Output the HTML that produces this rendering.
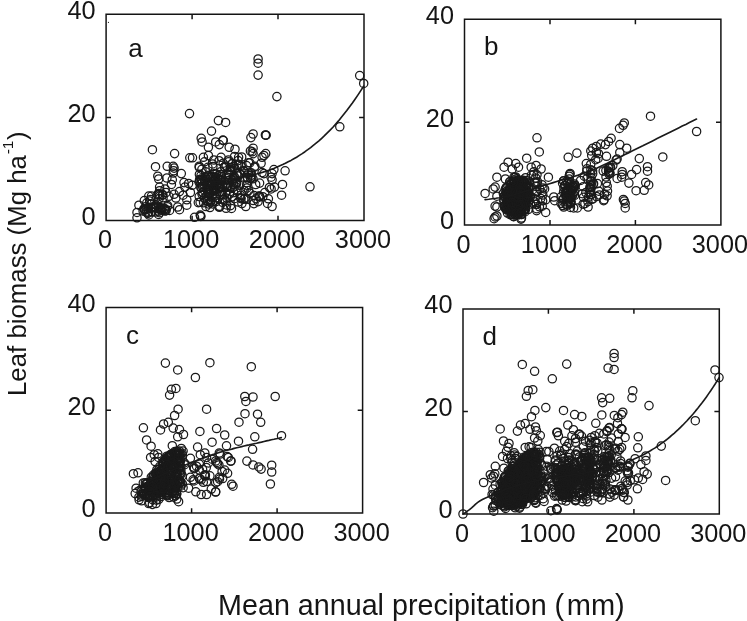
<!DOCTYPE html>
<html lang="en"><head><meta charset="utf-8"><title>Leaf biomass vs mean annual precipitation</title>
<style>
html,body{margin:0;padding:0;background:#fff;}
svg{display:block;}
text{font-family:"Liberation Sans",Arial,Helvetica,sans-serif;fill:#151515;}
.tk{font-size:25.3px;}
.pt circle{fill:none;stroke:#1a1a1a;stroke-width:1.25;}
.ax{fill:none;stroke:#141414;stroke-width:1.5;}
.cv{fill:none;stroke:#1a1a1a;stroke-width:1.65;stroke-linecap:round;stroke-linejoin:round;}
</style></head><body>
<svg width="747" height="621" viewBox="0 0 747 621">
<rect width="747" height="621" fill="#fff"/>

<g id="panel-a">
<g class="pt">
<circle cx="258.1" cy="59.0" r="4.15"/>
<circle cx="258.1" cy="63.2" r="4.15"/>
<circle cx="258.1" cy="75.1" r="4.15"/>
<circle cx="276.9" cy="96.6" r="4.15"/>
<circle cx="359.7" cy="75.6" r="4.15"/>
<circle cx="363.7" cy="83.4" r="4.15"/>
<circle cx="339.8" cy="126.8" r="4.15"/>
<circle cx="253.1" cy="134.0" r="4.15"/>
<circle cx="250.9" cy="137.6" r="4.15"/>
<circle cx="265.4" cy="134.9" r="4.15"/>
<circle cx="266.1" cy="135.2" r="4.15"/>
<circle cx="265.7" cy="135.2" r="4.15"/>
<circle cx="310.0" cy="186.8" r="4.15"/>
<circle cx="285.1" cy="170.8" r="4.15"/>
<circle cx="282.5" cy="184.4" r="4.15"/>
<circle cx="281.6" cy="195.2" r="4.15"/>
<circle cx="273.9" cy="169.6" r="4.15"/>
<circle cx="272.1" cy="173.6" r="4.15"/>
<circle cx="271.1" cy="177.2" r="4.15"/>
<circle cx="272.1" cy="179.8" r="4.15"/>
<circle cx="274.4" cy="187.1" r="4.15"/>
<circle cx="271.1" cy="188.9" r="4.15"/>
<circle cx="268.4" cy="198.8" r="4.15"/>
<circle cx="267.5" cy="203.4" r="4.15"/>
<circle cx="272.1" cy="206.5" r="4.15"/>
<circle cx="259.4" cy="196.5" r="4.15"/>
<circle cx="259.8" cy="196.9" r="4.15"/>
<circle cx="259.0" cy="196.1" r="4.15"/>
<circle cx="259.6" cy="196.3" r="4.15"/>
<circle cx="245.8" cy="206.5" r="4.15"/>
<circle cx="253.1" cy="148.2" r="4.15"/>
<circle cx="250.4" cy="151.0" r="4.15"/>
<circle cx="252.2" cy="151.8" r="4.15"/>
<circle cx="253.1" cy="153.6" r="4.15"/>
<circle cx="265.7" cy="153.6" r="4.15"/>
<circle cx="263.9" cy="155.5" r="4.15"/>
<circle cx="262.1" cy="157.3" r="4.15"/>
<circle cx="235.0" cy="149.2" r="4.15"/>
<circle cx="248.6" cy="162.7" r="4.15"/>
<circle cx="254.9" cy="166.3" r="4.15"/>
<circle cx="238.6" cy="157.3" r="4.15"/>
<circle cx="263.9" cy="173.6" r="4.15"/>
<circle cx="262.1" cy="172.6" r="4.15"/>
<circle cx="189.5" cy="113.6" r="4.15"/>
<circle cx="218.4" cy="120.6" r="4.15"/>
<circle cx="225.6" cy="122.4" r="4.15"/>
<circle cx="211.5" cy="131.1" r="4.15"/>
<circle cx="201.2" cy="138.3" r="4.15"/>
<circle cx="202.1" cy="141.9" r="4.15"/>
<circle cx="215.7" cy="141.9" r="4.15"/>
<circle cx="219.3" cy="144.6" r="4.15"/>
<circle cx="222.9" cy="140.1" r="4.15"/>
<circle cx="223.3" cy="140.5" r="4.15"/>
<circle cx="208.4" cy="147.3" r="4.15"/>
<circle cx="229.2" cy="147.3" r="4.15"/>
<circle cx="152.4" cy="149.7" r="4.15"/>
<circle cx="174.6" cy="153.6" r="4.15"/>
<circle cx="189.8" cy="157.8" r="4.15"/>
<circle cx="192.5" cy="157.8" r="4.15"/>
<circle cx="203.4" cy="157.3" r="4.15"/>
<circle cx="208.4" cy="155.5" r="4.15"/>
<circle cx="204.5" cy="161.8" r="4.15"/>
<circle cx="221.1" cy="157.3" r="4.15"/>
<circle cx="213.9" cy="160.0" r="4.15"/>
<circle cx="234.6" cy="156.4" r="4.15"/>
<circle cx="155.5" cy="166.7" r="4.15"/>
<circle cx="167.2" cy="166.3" r="4.15"/>
<circle cx="173.2" cy="166.3" r="4.15"/>
<circle cx="174.1" cy="168.1" r="4.15"/>
<circle cx="173.7" cy="170.8" r="4.15"/>
<circle cx="173.2" cy="173.0" r="4.15"/>
<circle cx="181.3" cy="173.6" r="4.15"/>
<circle cx="199.4" cy="174.4" r="4.15"/>
<circle cx="157.8" cy="176.2" r="4.15"/>
<circle cx="158.7" cy="179.0" r="4.15"/>
<circle cx="166.9" cy="178.0" r="4.15"/>
<circle cx="172.3" cy="179.8" r="4.15"/>
<circle cx="171.4" cy="184.4" r="4.15"/>
<circle cx="184.0" cy="182.6" r="4.15"/>
<circle cx="188.6" cy="183.5" r="4.15"/>
<circle cx="184.9" cy="187.1" r="4.15"/>
<circle cx="179.5" cy="191.6" r="4.15"/>
<circle cx="183.1" cy="195.2" r="4.15"/>
<circle cx="186.8" cy="199.8" r="4.15"/>
<circle cx="177.7" cy="207.0" r="4.15"/>
<circle cx="179.5" cy="209.7" r="4.15"/>
<circle cx="186.8" cy="205.2" r="4.15"/>
<circle cx="190.4" cy="192.5" r="4.15"/>
<circle cx="192.2" cy="185.3" r="4.15"/>
<circle cx="175.9" cy="198.0" r="4.15"/>
<circle cx="174.1" cy="194.3" r="4.15"/>
<circle cx="159.6" cy="187.1" r="4.15"/>
<circle cx="159.6" cy="190.7" r="4.15"/>
<circle cx="158.7" cy="193.4" r="4.15"/>
<circle cx="159.6" cy="196.1" r="4.15"/>
<circle cx="165.1" cy="188.9" r="4.15"/>
<circle cx="166.0" cy="192.5" r="4.15"/>
<circle cx="144.3" cy="200.6" r="4.15"/>
<circle cx="148.8" cy="196.1" r="4.15"/>
<circle cx="151.5" cy="196.1" r="4.15"/>
<circle cx="138.9" cy="205.2" r="4.15"/>
<circle cx="137.0" cy="212.4" r="4.15"/>
<circle cx="137.0" cy="217.8" r="4.15"/>
<circle cx="194.5" cy="217.3" r="4.15"/>
<circle cx="200.9" cy="216.4" r="4.15"/>
<circle cx="200.3" cy="215.1" r="4.15"/>
<circle cx="200.5" cy="216.0" r="4.15"/>
<circle cx="147.9" cy="208.8" r="4.15"/>
<circle cx="147.8" cy="213.4" r="4.15"/>
<circle cx="169.6" cy="210.4" r="4.15"/>
<circle cx="160.4" cy="207.4" r="4.15"/>
<circle cx="160.8" cy="210.0" r="4.15"/>
<circle cx="156.1" cy="208.3" r="4.15"/>
<circle cx="148.2" cy="212.3" r="4.15"/>
<circle cx="154.9" cy="207.4" r="4.15"/>
<circle cx="155.1" cy="206.7" r="4.15"/>
<circle cx="167.3" cy="206.7" r="4.15"/>
<circle cx="151.8" cy="208.2" r="4.15"/>
<circle cx="148.8" cy="214.9" r="4.15"/>
<circle cx="166.1" cy="210.6" r="4.15"/>
<circle cx="145.5" cy="206.7" r="4.15"/>
<circle cx="155.9" cy="204.8" r="4.15"/>
<circle cx="159.5" cy="212.7" r="4.15"/>
<circle cx="161.0" cy="210.0" r="4.15"/>
<circle cx="150.7" cy="208.0" r="4.15"/>
<circle cx="153.5" cy="207.1" r="4.15"/>
<circle cx="155.8" cy="205.1" r="4.15"/>
<circle cx="159.1" cy="211.2" r="4.15"/>
<circle cx="167.7" cy="205.6" r="4.15"/>
<circle cx="155.3" cy="212.0" r="4.15"/>
<circle cx="143.9" cy="208.9" r="4.15"/>
<circle cx="148.4" cy="207.2" r="4.15"/>
<circle cx="165.8" cy="209.3" r="4.15"/>
<circle cx="144.7" cy="209.8" r="4.15"/>
<circle cx="146.2" cy="209.5" r="4.15"/>
<circle cx="160.3" cy="208.6" r="4.15"/>
<circle cx="151.8" cy="212.0" r="4.15"/>
<circle cx="158.6" cy="214.4" r="4.15"/>
<circle cx="146.0" cy="212.2" r="4.15"/>
<circle cx="159.1" cy="198.8" r="4.15"/>
<circle cx="158.9" cy="194.7" r="4.15"/>
<circle cx="164.4" cy="208.6" r="4.15"/>
<circle cx="143.1" cy="211.0" r="4.15"/>
<circle cx="149.6" cy="201.0" r="4.15"/>
<circle cx="157.8" cy="194.4" r="4.15"/>
<circle cx="162.5" cy="195.1" r="4.15"/>
<circle cx="155.5" cy="207.3" r="4.15"/>
<circle cx="146.8" cy="202.8" r="4.15"/>
<circle cx="164.9" cy="211.0" r="4.15"/>
<circle cx="162.9" cy="194.7" r="4.15"/>
<circle cx="163.1" cy="197.8" r="4.15"/>
<circle cx="161.2" cy="209.0" r="4.15"/>
<circle cx="150.9" cy="203.9" r="4.15"/>
<circle cx="164.6" cy="209.2" r="4.15"/>
<circle cx="168.9" cy="196.3" r="4.15"/>
<circle cx="150.6" cy="199.4" r="4.15"/>
<circle cx="214.4" cy="187.8" r="4.15"/>
<circle cx="211.0" cy="200.6" r="4.15"/>
<circle cx="201.2" cy="187.4" r="4.15"/>
<circle cx="200.9" cy="187.7" r="4.15"/>
<circle cx="212.3" cy="179.7" r="4.15"/>
<circle cx="217.0" cy="185.5" r="4.15"/>
<circle cx="202.5" cy="186.4" r="4.15"/>
<circle cx="200.0" cy="181.0" r="4.15"/>
<circle cx="214.7" cy="173.4" r="4.15"/>
<circle cx="207.5" cy="201.2" r="4.15"/>
<circle cx="216.9" cy="186.0" r="4.15"/>
<circle cx="202.0" cy="194.0" r="4.15"/>
<circle cx="210.9" cy="176.5" r="4.15"/>
<circle cx="216.0" cy="184.6" r="4.15"/>
<circle cx="217.4" cy="183.8" r="4.15"/>
<circle cx="210.3" cy="202.7" r="4.15"/>
<circle cx="200.1" cy="202.3" r="4.15"/>
<circle cx="203.0" cy="192.4" r="4.15"/>
<circle cx="213.6" cy="190.6" r="4.15"/>
<circle cx="224.1" cy="199.2" r="4.15"/>
<circle cx="207.9" cy="186.6" r="4.15"/>
<circle cx="209.7" cy="194.2" r="4.15"/>
<circle cx="215.4" cy="177.3" r="4.15"/>
<circle cx="210.3" cy="201.4" r="4.15"/>
<circle cx="214.2" cy="180.7" r="4.15"/>
<circle cx="207.1" cy="184.4" r="4.15"/>
<circle cx="206.6" cy="179.3" r="4.15"/>
<circle cx="208.4" cy="182.6" r="4.15"/>
<circle cx="209.0" cy="193.1" r="4.15"/>
<circle cx="209.5" cy="182.8" r="4.15"/>
<circle cx="222.6" cy="199.5" r="4.15"/>
<circle cx="199.6" cy="179.4" r="4.15"/>
<circle cx="209.5" cy="188.8" r="4.15"/>
<circle cx="212.1" cy="176.4" r="4.15"/>
<circle cx="210.1" cy="183.4" r="4.15"/>
<circle cx="199.0" cy="182.1" r="4.15"/>
<circle cx="201.1" cy="184.0" r="4.15"/>
<circle cx="207.9" cy="177.1" r="4.15"/>
<circle cx="203.6" cy="202.8" r="4.15"/>
<circle cx="216.1" cy="201.5" r="4.15"/>
<circle cx="215.9" cy="197.8" r="4.15"/>
<circle cx="204.3" cy="198.0" r="4.15"/>
<circle cx="218.4" cy="187.2" r="4.15"/>
<circle cx="215.3" cy="191.7" r="4.15"/>
<circle cx="207.7" cy="191.0" r="4.15"/>
<circle cx="222.6" cy="202.3" r="4.15"/>
<circle cx="222.4" cy="185.1" r="4.15"/>
<circle cx="208.9" cy="189.8" r="4.15"/>
<circle cx="202.3" cy="192.4" r="4.15"/>
<circle cx="221.2" cy="191.8" r="4.15"/>
<circle cx="211.4" cy="185.0" r="4.15"/>
<circle cx="211.4" cy="182.0" r="4.15"/>
<circle cx="219.4" cy="188.3" r="4.15"/>
<circle cx="205.9" cy="206.5" r="4.15"/>
<circle cx="212.7" cy="203.9" r="4.15"/>
<circle cx="219.7" cy="192.1" r="4.15"/>
<circle cx="207.9" cy="193.2" r="4.15"/>
<circle cx="215.1" cy="188.7" r="4.15"/>
<circle cx="202.1" cy="180.2" r="4.15"/>
<circle cx="201.2" cy="179.0" r="4.15"/>
<circle cx="206.3" cy="196.4" r="4.15"/>
<circle cx="218.6" cy="182.5" r="4.15"/>
<circle cx="204.8" cy="181.4" r="4.15"/>
<circle cx="214.2" cy="185.8" r="4.15"/>
<circle cx="213.0" cy="197.8" r="4.15"/>
<circle cx="221.6" cy="180.0" r="4.15"/>
<circle cx="220.0" cy="180.5" r="4.15"/>
<circle cx="221.7" cy="191.5" r="4.15"/>
<circle cx="210.2" cy="177.3" r="4.15"/>
<circle cx="216.5" cy="195.1" r="4.15"/>
<circle cx="222.8" cy="195.0" r="4.15"/>
<circle cx="218.9" cy="178.6" r="4.15"/>
<circle cx="229.5" cy="174.8" r="4.15"/>
<circle cx="219.6" cy="206.3" r="4.15"/>
<circle cx="219.0" cy="207.0" r="4.15"/>
<circle cx="201.3" cy="179.7" r="4.15"/>
<circle cx="220.7" cy="171.7" r="4.15"/>
<circle cx="201.0" cy="175.6" r="4.15"/>
<circle cx="208.8" cy="204.0" r="4.15"/>
<circle cx="198.3" cy="202.6" r="4.15"/>
<circle cx="226.1" cy="208.3" r="4.15"/>
<circle cx="231.5" cy="208.4" r="4.15"/>
<circle cx="228.9" cy="177.7" r="4.15"/>
<circle cx="206.3" cy="187.3" r="4.15"/>
<circle cx="220.4" cy="194.2" r="4.15"/>
<circle cx="199.2" cy="196.6" r="4.15"/>
<circle cx="217.8" cy="179.9" r="4.15"/>
<circle cx="208.2" cy="176.0" r="4.15"/>
<circle cx="214.7" cy="189.6" r="4.15"/>
<circle cx="199.3" cy="167.4" r="4.15"/>
<circle cx="199.2" cy="166.2" r="4.15"/>
<circle cx="221.4" cy="176.6" r="4.15"/>
<circle cx="207.9" cy="167.3" r="4.15"/>
<circle cx="224.6" cy="166.7" r="4.15"/>
<circle cx="213.2" cy="177.3" r="4.15"/>
<circle cx="208.2" cy="192.7" r="4.15"/>
<circle cx="232.3" cy="163.8" r="4.15"/>
<circle cx="219.6" cy="207.1" r="4.15"/>
<circle cx="225.9" cy="192.3" r="4.15"/>
<circle cx="209.0" cy="175.6" r="4.15"/>
<circle cx="229.5" cy="194.1" r="4.15"/>
<circle cx="212.9" cy="166.5" r="4.15"/>
<circle cx="226.7" cy="204.9" r="4.15"/>
<circle cx="204.0" cy="184.5" r="4.15"/>
<circle cx="216.4" cy="173.9" r="4.15"/>
<circle cx="217.4" cy="178.6" r="4.15"/>
<circle cx="230.5" cy="205.6" r="4.15"/>
<circle cx="230.4" cy="167.6" r="4.15"/>
<circle cx="209.9" cy="207.5" r="4.15"/>
<circle cx="224.7" cy="167.5" r="4.15"/>
<circle cx="214.2" cy="189.2" r="4.15"/>
<circle cx="207.4" cy="200.6" r="4.15"/>
<circle cx="204.8" cy="180.1" r="4.15"/>
<circle cx="230.7" cy="187.0" r="4.15"/>
<circle cx="227.3" cy="182.9" r="4.15"/>
<circle cx="220.6" cy="179.9" r="4.15"/>
<circle cx="226.8" cy="198.2" r="4.15"/>
<circle cx="231.0" cy="169.8" r="4.15"/>
<circle cx="205.0" cy="177.1" r="4.15"/>
<circle cx="208.3" cy="196.5" r="4.15"/>
<circle cx="227.2" cy="186.2" r="4.15"/>
<circle cx="226.6" cy="187.3" r="4.15"/>
<circle cx="212.6" cy="163.9" r="4.15"/>
<circle cx="207.7" cy="191.0" r="4.15"/>
<circle cx="228.5" cy="161.8" r="4.15"/>
<circle cx="212.1" cy="196.2" r="4.15"/>
<circle cx="205.6" cy="171.8" r="4.15"/>
<circle cx="214.9" cy="187.6" r="4.15"/>
<circle cx="227.2" cy="187.3" r="4.15"/>
<circle cx="230.3" cy="171.4" r="4.15"/>
<circle cx="232.8" cy="187.7" r="4.15"/>
<circle cx="222.5" cy="187.0" r="4.15"/>
<circle cx="218.3" cy="175.5" r="4.15"/>
<circle cx="214.7" cy="180.1" r="4.15"/>
<circle cx="223.2" cy="163.2" r="4.15"/>
<circle cx="219.1" cy="160.7" r="4.15"/>
<circle cx="234.8" cy="168.5" r="4.15"/>
<circle cx="220.7" cy="174.6" r="4.15"/>
<circle cx="220.3" cy="187.8" r="4.15"/>
<circle cx="201.9" cy="169.3" r="4.15"/>
<circle cx="240.0" cy="174.4" r="4.15"/>
<circle cx="228.4" cy="180.6" r="4.15"/>
<circle cx="228.3" cy="174.3" r="4.15"/>
<circle cx="247.5" cy="178.9" r="4.15"/>
<circle cx="228.2" cy="185.7" r="4.15"/>
<circle cx="251.3" cy="175.3" r="4.15"/>
<circle cx="234.6" cy="177.7" r="4.15"/>
<circle cx="244.8" cy="177.4" r="4.15"/>
<circle cx="239.5" cy="173.0" r="4.15"/>
<circle cx="233.4" cy="178.5" r="4.15"/>
<circle cx="233.6" cy="184.2" r="4.15"/>
<circle cx="246.9" cy="199.3" r="4.15"/>
<circle cx="236.9" cy="165.1" r="4.15"/>
<circle cx="254.4" cy="167.2" r="4.15"/>
<circle cx="227.1" cy="174.3" r="4.15"/>
<circle cx="246.5" cy="165.6" r="4.15"/>
<circle cx="251.0" cy="178.6" r="4.15"/>
<circle cx="234.3" cy="198.7" r="4.15"/>
<circle cx="226.2" cy="166.1" r="4.15"/>
<circle cx="241.1" cy="166.2" r="4.15"/>
<circle cx="230.0" cy="169.9" r="4.15"/>
<circle cx="249.9" cy="193.3" r="4.15"/>
<circle cx="233.7" cy="166.3" r="4.15"/>
<circle cx="238.5" cy="164.3" r="4.15"/>
<circle cx="237.8" cy="190.3" r="4.15"/>
<circle cx="236.6" cy="182.5" r="4.15"/>
<circle cx="254.0" cy="195.4" r="4.15"/>
<circle cx="236.5" cy="183.7" r="4.15"/>
<circle cx="238.1" cy="202.0" r="4.15"/>
<circle cx="240.5" cy="197.8" r="4.15"/>
<circle cx="233.7" cy="192.6" r="4.15"/>
<circle cx="256.1" cy="198.7" r="4.15"/>
<circle cx="253.3" cy="200.5" r="4.15"/>
<circle cx="246.6" cy="185.1" r="4.15"/>
<circle cx="244.1" cy="190.5" r="4.15"/>
<circle cx="240.4" cy="195.3" r="4.15"/>
<circle cx="251.2" cy="172.8" r="4.15"/>
<circle cx="235.8" cy="183.3" r="4.15"/>
<circle cx="251.9" cy="177.0" r="4.15"/>
<circle cx="248.4" cy="174.7" r="4.15"/>
<circle cx="248.4" cy="173.1" r="4.15"/>
<circle cx="228.5" cy="159.9" r="4.15"/>
<circle cx="253.0" cy="178.8" r="4.15"/>
<circle cx="226.3" cy="184.3" r="4.15"/>
<circle cx="232.6" cy="180.3" r="4.15"/>
<circle cx="235.3" cy="186.2" r="4.15"/>
<circle cx="247.6" cy="177.5" r="4.15"/>
<circle cx="239.9" cy="185.3" r="4.15"/>
<circle cx="245.2" cy="198.3" r="4.15"/>
<circle cx="225.5" cy="201.2" r="4.15"/>
<circle cx="234.1" cy="176.4" r="4.15"/>
<circle cx="232.3" cy="163.3" r="4.15"/>
<circle cx="238.2" cy="175.9" r="4.15"/>
<circle cx="241.1" cy="198.6" r="4.15"/>
<circle cx="243.7" cy="170.6" r="4.15"/>
<circle cx="232.4" cy="196.6" r="4.15"/>
<circle cx="248.7" cy="190.6" r="4.15"/>
<circle cx="261.1" cy="163.3" r="4.15"/>
<circle cx="249.9" cy="162.8" r="4.15"/>
<circle cx="253.9" cy="203.6" r="4.15"/>
<circle cx="237.0" cy="172.9" r="4.15"/>
<circle cx="238.1" cy="160.6" r="4.15"/>
<circle cx="244.4" cy="171.6" r="4.15"/>
<circle cx="255.7" cy="184.5" r="4.15"/>
<circle cx="259.6" cy="183.1" r="4.15"/>
<circle cx="243.8" cy="199.1" r="4.15"/>
<circle cx="264.8" cy="192.6" r="4.15"/>
<circle cx="250.5" cy="178.0" r="4.15"/>
<circle cx="241.9" cy="203.6" r="4.15"/>
<circle cx="269.4" cy="187.5" r="4.15"/>
<circle cx="241.7" cy="157.0" r="4.15"/>
<circle cx="262.8" cy="196.7" r="4.15"/>
<circle cx="246.8" cy="188.0" r="4.15"/>
<circle cx="258.1" cy="201.6" r="4.15"/>
<circle cx="108.4" cy="22.4" r="0.55" style="fill:#1a1a1a;stroke:none"/>
</g>
<path class="cv" d="M198.9,183.8 L201.7,183.4 L204.5,183.1 L207.3,182.7 L210.1,182.3 L212.9,181.9 L215.7,181.6 L218.5,181.2 L221.3,180.8 L224.1,180.4 L226.8,180.0 L229.6,179.5 L232.4,179.1 L235.2,178.6 L238.0,178.1 L240.8,177.6 L243.6,177.0 L246.4,176.5 L249.2,175.8 L252.0,175.2 L254.7,174.5 L257.5,173.7 L260.3,172.9 L263.1,172.1 L265.9,171.2 L268.7,170.2 L271.5,169.2 L274.3,168.2 L277.1,167.0 L279.9,165.8 L282.7,164.6 L285.4,163.3 L288.2,161.8 L291.0,160.4 L293.8,158.8 L296.6,157.2 L299.4,155.4 L302.2,153.6 L305.0,151.7 L307.8,149.7 L310.6,147.6 L313.3,145.4 L316.1,143.1 L318.9,140.8 L321.7,138.3 L324.5,135.7 L327.3,132.9 L330.1,130.1 L332.9,127.2 L335.7,124.1 L338.5,120.9 L341.2,117.6 L344.0,114.1 L346.8,110.6 L349.6,106.8 L352.4,103.0 L355.2,99.0 L358.0,94.9 L360.8,90.6 L363.6,86.2"/>
<path class="ax" d="M106.1,14.25H364.0V220.6H106.1ZM192.1,220.6v-4.9M192.1,14.25v4.9M278.0,220.6v-4.9M278.0,14.25v4.9M106.1,117.4h4.9M364.0,117.4h-4.9"/>
<text class="tk" x="105.1" y="248.2" text-anchor="middle">0</text>
<text class="tk" x="191.1" y="248.2" text-anchor="middle">1000</text>
<text class="tk" x="277.0" y="248.2" text-anchor="middle">2000</text>
<text class="tk" x="363.0" y="248.2" text-anchor="middle">3000</text>
<text class="tk" x="95.6" y="224.9" text-anchor="end">0</text>
<text class="tk" x="95.6" y="121.7" text-anchor="end">20</text>
<text class="tk" x="95.6" y="18.6" text-anchor="end">40</text>
<text x="128.3" y="57.2" font-size="26">a</text>
</g>
<g id="panel-b">
<g class="pt">
<circle cx="537.0" cy="137.8" r="4.15"/>
<circle cx="539.3" cy="151.9" r="4.15"/>
<circle cx="526.7" cy="158.2" r="4.15"/>
<circle cx="508.1" cy="162.2" r="4.15"/>
<circle cx="515.8" cy="163.6" r="4.15"/>
<circle cx="518.5" cy="167.2" r="4.15"/>
<circle cx="504.1" cy="167.2" r="4.15"/>
<circle cx="512.2" cy="169.0" r="4.15"/>
<circle cx="536.1" cy="165.4" r="4.15"/>
<circle cx="541.1" cy="169.0" r="4.15"/>
<circle cx="531.2" cy="167.2" r="4.15"/>
<circle cx="533.9" cy="171.7" r="4.15"/>
<circle cx="568.2" cy="157.3" r="4.15"/>
<circle cx="576.9" cy="153.1" r="4.15"/>
<circle cx="590.8" cy="150.9" r="4.15"/>
<circle cx="591.7" cy="155.5" r="4.15"/>
<circle cx="586.3" cy="163.6" r="4.15"/>
<circle cx="592.6" cy="170.8" r="4.15"/>
<circle cx="496.9" cy="177.2" r="4.15"/>
<circle cx="548.4" cy="177.2" r="4.15"/>
<circle cx="535.7" cy="178.0" r="4.15"/>
<circle cx="537.5" cy="181.7" r="4.15"/>
<circle cx="495.1" cy="187.1" r="4.15"/>
<circle cx="493.2" cy="188.9" r="4.15"/>
<circle cx="485.1" cy="193.4" r="4.15"/>
<circle cx="542.9" cy="188.0" r="4.15"/>
<circle cx="496.9" cy="196.2" r="4.15"/>
<circle cx="545.7" cy="199.8" r="4.15"/>
<circle cx="553.8" cy="197.0" r="4.15"/>
<circle cx="554.7" cy="200.7" r="4.15"/>
<circle cx="495.1" cy="206.1" r="4.15"/>
<circle cx="496.9" cy="207.0" r="4.15"/>
<circle cx="545.7" cy="212.4" r="4.15"/>
<circle cx="536.6" cy="210.6" r="4.15"/>
<circle cx="495.1" cy="216.9" r="4.15"/>
<circle cx="494.1" cy="218.7" r="4.15"/>
<circle cx="496.9" cy="216.0" r="4.15"/>
<circle cx="570.1" cy="173.5" r="4.15"/>
<circle cx="569.2" cy="176.2" r="4.15"/>
<circle cx="569.7" cy="174.4" r="4.15"/>
<circle cx="561.0" cy="203.4" r="4.15"/>
<circle cx="563.7" cy="207.0" r="4.15"/>
<circle cx="573.7" cy="207.9" r="4.15"/>
<circle cx="577.3" cy="207.9" r="4.15"/>
<circle cx="588.1" cy="207.0" r="4.15"/>
<circle cx="650.5" cy="116.2" r="4.15"/>
<circle cx="696.6" cy="131.5" r="4.15"/>
<circle cx="624.3" cy="122.9" r="4.15"/>
<circle cx="623.1" cy="125.3" r="4.15"/>
<circle cx="619.5" cy="128.4" r="4.15"/>
<circle cx="611.1" cy="138.3" r="4.15"/>
<circle cx="608.6" cy="141.4" r="4.15"/>
<circle cx="605.4" cy="144.6" r="4.15"/>
<circle cx="600.8" cy="144.1" r="4.15"/>
<circle cx="596.3" cy="146.4" r="4.15"/>
<circle cx="592.7" cy="148.2" r="4.15"/>
<circle cx="619.8" cy="144.6" r="4.15"/>
<circle cx="626.7" cy="148.2" r="4.15"/>
<circle cx="619.8" cy="152.4" r="4.15"/>
<circle cx="662.8" cy="156.9" r="4.15"/>
<circle cx="639.3" cy="158.6" r="4.15"/>
<circle cx="616.2" cy="160.0" r="4.15"/>
<circle cx="617.1" cy="159.1" r="4.15"/>
<circle cx="647.5" cy="166.7" r="4.15"/>
<circle cx="647.5" cy="171.2" r="4.15"/>
<circle cx="636.6" cy="169.6" r="4.15"/>
<circle cx="631.6" cy="174.4" r="4.15"/>
<circle cx="622.2" cy="171.7" r="4.15"/>
<circle cx="622.2" cy="174.4" r="4.15"/>
<circle cx="621.6" cy="177.2" r="4.15"/>
<circle cx="617.1" cy="178.4" r="4.15"/>
<circle cx="628.9" cy="183.1" r="4.15"/>
<circle cx="645.7" cy="182.6" r="4.15"/>
<circle cx="648.7" cy="184.9" r="4.15"/>
<circle cx="636.1" cy="190.7" r="4.15"/>
<circle cx="644.2" cy="190.3" r="4.15"/>
<circle cx="623.4" cy="199.4" r="4.15"/>
<circle cx="624.3" cy="201.0" r="4.15"/>
<circle cx="625.2" cy="203.4" r="4.15"/>
<circle cx="625.2" cy="207.9" r="4.15"/>
<circle cx="604.5" cy="194.4" r="4.15"/>
<circle cx="604.1" cy="199.8" r="4.15"/>
<circle cx="603.6" cy="200.7" r="4.15"/>
<circle cx="607.2" cy="186.2" r="4.15"/>
<circle cx="606.3" cy="182.6" r="4.15"/>
<circle cx="513.1" cy="199.1" r="4.15"/>
<circle cx="519.9" cy="206.1" r="4.15"/>
<circle cx="516.0" cy="185.2" r="4.15"/>
<circle cx="525.8" cy="200.8" r="4.15"/>
<circle cx="519.5" cy="200.9" r="4.15"/>
<circle cx="510.4" cy="194.9" r="4.15"/>
<circle cx="518.5" cy="208.0" r="4.15"/>
<circle cx="515.4" cy="201.3" r="4.15"/>
<circle cx="525.0" cy="204.8" r="4.15"/>
<circle cx="525.3" cy="207.1" r="4.15"/>
<circle cx="508.3" cy="206.2" r="4.15"/>
<circle cx="520.7" cy="192.9" r="4.15"/>
<circle cx="520.6" cy="202.0" r="4.15"/>
<circle cx="514.0" cy="196.8" r="4.15"/>
<circle cx="515.3" cy="200.2" r="4.15"/>
<circle cx="514.3" cy="203.2" r="4.15"/>
<circle cx="504.9" cy="195.2" r="4.15"/>
<circle cx="506.4" cy="193.3" r="4.15"/>
<circle cx="520.1" cy="198.2" r="4.15"/>
<circle cx="516.2" cy="198.6" r="4.15"/>
<circle cx="526.7" cy="187.2" r="4.15"/>
<circle cx="522.5" cy="183.3" r="4.15"/>
<circle cx="514.0" cy="199.5" r="4.15"/>
<circle cx="511.6" cy="200.0" r="4.15"/>
<circle cx="521.5" cy="186.4" r="4.15"/>
<circle cx="516.4" cy="194.3" r="4.15"/>
<circle cx="504.8" cy="196.2" r="4.15"/>
<circle cx="511.9" cy="210.9" r="4.15"/>
<circle cx="511.5" cy="214.4" r="4.15"/>
<circle cx="513.6" cy="216.7" r="4.15"/>
<circle cx="520.3" cy="202.3" r="4.15"/>
<circle cx="522.0" cy="206.7" r="4.15"/>
<circle cx="514.8" cy="185.8" r="4.15"/>
<circle cx="521.7" cy="201.6" r="4.15"/>
<circle cx="517.6" cy="194.6" r="4.15"/>
<circle cx="512.9" cy="195.2" r="4.15"/>
<circle cx="519.3" cy="180.8" r="4.15"/>
<circle cx="521.5" cy="183.8" r="4.15"/>
<circle cx="515.9" cy="191.8" r="4.15"/>
<circle cx="514.6" cy="187.8" r="4.15"/>
<circle cx="509.7" cy="195.7" r="4.15"/>
<circle cx="514.3" cy="191.5" r="4.15"/>
<circle cx="513.5" cy="187.5" r="4.15"/>
<circle cx="518.8" cy="183.3" r="4.15"/>
<circle cx="516.9" cy="186.2" r="4.15"/>
<circle cx="516.7" cy="201.3" r="4.15"/>
<circle cx="519.9" cy="202.1" r="4.15"/>
<circle cx="512.5" cy="206.4" r="4.15"/>
<circle cx="514.1" cy="201.2" r="4.15"/>
<circle cx="521.3" cy="194.9" r="4.15"/>
<circle cx="508.8" cy="203.8" r="4.15"/>
<circle cx="509.9" cy="189.2" r="4.15"/>
<circle cx="510.0" cy="206.0" r="4.15"/>
<circle cx="521.5" cy="218.0" r="4.15"/>
<circle cx="528.1" cy="192.3" r="4.15"/>
<circle cx="517.3" cy="202.8" r="4.15"/>
<circle cx="522.4" cy="198.2" r="4.15"/>
<circle cx="510.0" cy="205.1" r="4.15"/>
<circle cx="520.7" cy="184.9" r="4.15"/>
<circle cx="514.6" cy="200.5" r="4.15"/>
<circle cx="516.8" cy="202.9" r="4.15"/>
<circle cx="521.8" cy="203.1" r="4.15"/>
<circle cx="516.1" cy="184.7" r="4.15"/>
<circle cx="520.7" cy="211.4" r="4.15"/>
<circle cx="529.2" cy="197.5" r="4.15"/>
<circle cx="516.6" cy="211.8" r="4.15"/>
<circle cx="525.8" cy="201.1" r="4.15"/>
<circle cx="521.3" cy="190.4" r="4.15"/>
<circle cx="520.5" cy="189.8" r="4.15"/>
<circle cx="515.9" cy="196.6" r="4.15"/>
<circle cx="513.9" cy="177.3" r="4.15"/>
<circle cx="511.7" cy="201.0" r="4.15"/>
<circle cx="516.5" cy="194.0" r="4.15"/>
<circle cx="519.5" cy="204.5" r="4.15"/>
<circle cx="522.1" cy="190.0" r="4.15"/>
<circle cx="517.0" cy="194.6" r="4.15"/>
<circle cx="511.3" cy="183.3" r="4.15"/>
<circle cx="516.2" cy="189.3" r="4.15"/>
<circle cx="530.3" cy="196.8" r="4.15"/>
<circle cx="515.4" cy="193.9" r="4.15"/>
<circle cx="528.5" cy="188.6" r="4.15"/>
<circle cx="515.8" cy="190.3" r="4.15"/>
<circle cx="516.0" cy="197.4" r="4.15"/>
<circle cx="523.7" cy="184.1" r="4.15"/>
<circle cx="516.7" cy="213.4" r="4.15"/>
<circle cx="513.6" cy="196.0" r="4.15"/>
<circle cx="516.2" cy="209.2" r="4.15"/>
<circle cx="513.9" cy="179.9" r="4.15"/>
<circle cx="518.5" cy="198.6" r="4.15"/>
<circle cx="523.1" cy="206.6" r="4.15"/>
<circle cx="515.1" cy="201.7" r="4.15"/>
<circle cx="505.6" cy="208.6" r="4.15"/>
<circle cx="518.0" cy="208.3" r="4.15"/>
<circle cx="523.4" cy="195.0" r="4.15"/>
<circle cx="515.9" cy="189.3" r="4.15"/>
<circle cx="503.9" cy="196.5" r="4.15"/>
<circle cx="517.8" cy="187.3" r="4.15"/>
<circle cx="521.3" cy="198.7" r="4.15"/>
<circle cx="519.6" cy="190.3" r="4.15"/>
<circle cx="505.8" cy="205.3" r="4.15"/>
<circle cx="520.6" cy="196.7" r="4.15"/>
<circle cx="514.2" cy="195.1" r="4.15"/>
<circle cx="516.0" cy="192.9" r="4.15"/>
<circle cx="504.3" cy="205.4" r="4.15"/>
<circle cx="507.5" cy="194.6" r="4.15"/>
<circle cx="514.9" cy="200.3" r="4.15"/>
<circle cx="506.7" cy="209.5" r="4.15"/>
<circle cx="520.9" cy="205.3" r="4.15"/>
<circle cx="524.7" cy="190.1" r="4.15"/>
<circle cx="525.0" cy="209.1" r="4.15"/>
<circle cx="513.5" cy="197.0" r="4.15"/>
<circle cx="518.7" cy="180.4" r="4.15"/>
<circle cx="512.7" cy="191.7" r="4.15"/>
<circle cx="526.8" cy="191.6" r="4.15"/>
<circle cx="526.7" cy="198.1" r="4.15"/>
<circle cx="510.8" cy="203.9" r="4.15"/>
<circle cx="527.6" cy="192.8" r="4.15"/>
<circle cx="509.2" cy="208.0" r="4.15"/>
<circle cx="517.3" cy="186.1" r="4.15"/>
<circle cx="510.2" cy="194.1" r="4.15"/>
<circle cx="522.9" cy="195.2" r="4.15"/>
<circle cx="521.0" cy="213.9" r="4.15"/>
<circle cx="524.8" cy="211.9" r="4.15"/>
<circle cx="524.6" cy="182.4" r="4.15"/>
<circle cx="524.6" cy="201.1" r="4.15"/>
<circle cx="516.1" cy="187.4" r="4.15"/>
<circle cx="507.0" cy="187.2" r="4.15"/>
<circle cx="516.8" cy="186.5" r="4.15"/>
<circle cx="511.8" cy="192.0" r="4.15"/>
<circle cx="521.1" cy="195.1" r="4.15"/>
<circle cx="516.0" cy="210.8" r="4.15"/>
<circle cx="514.9" cy="203.8" r="4.15"/>
<circle cx="510.3" cy="201.1" r="4.15"/>
<circle cx="517.7" cy="199.6" r="4.15"/>
<circle cx="514.0" cy="188.0" r="4.15"/>
<circle cx="515.0" cy="193.4" r="4.15"/>
<circle cx="523.4" cy="206.7" r="4.15"/>
<circle cx="509.4" cy="204.0" r="4.15"/>
<circle cx="513.9" cy="202.4" r="4.15"/>
<circle cx="513.9" cy="183.7" r="4.15"/>
<circle cx="523.3" cy="202.3" r="4.15"/>
<circle cx="513.6" cy="186.5" r="4.15"/>
<circle cx="514.6" cy="204.0" r="4.15"/>
<circle cx="526.1" cy="194.5" r="4.15"/>
<circle cx="525.5" cy="209.2" r="4.15"/>
<circle cx="514.2" cy="181.8" r="4.15"/>
<circle cx="522.2" cy="203.9" r="4.15"/>
<circle cx="521.8" cy="214.4" r="4.15"/>
<circle cx="510.4" cy="199.9" r="4.15"/>
<circle cx="515.2" cy="214.9" r="4.15"/>
<circle cx="525.5" cy="189.2" r="4.15"/>
<circle cx="521.8" cy="193.4" r="4.15"/>
<circle cx="518.5" cy="204.2" r="4.15"/>
<circle cx="518.2" cy="188.8" r="4.15"/>
<circle cx="525.7" cy="201.9" r="4.15"/>
<circle cx="516.9" cy="204.9" r="4.15"/>
<circle cx="513.7" cy="216.4" r="4.15"/>
<circle cx="518.4" cy="201.7" r="4.15"/>
<circle cx="519.2" cy="189.3" r="4.15"/>
<circle cx="509.7" cy="200.2" r="4.15"/>
<circle cx="519.2" cy="211.2" r="4.15"/>
<circle cx="519.9" cy="187.6" r="4.15"/>
<circle cx="520.3" cy="206.1" r="4.15"/>
<circle cx="523.3" cy="201.3" r="4.15"/>
<circle cx="509.4" cy="209.4" r="4.15"/>
<circle cx="512.5" cy="203.7" r="4.15"/>
<circle cx="507.2" cy="205.6" r="4.15"/>
<circle cx="512.1" cy="208.6" r="4.15"/>
<circle cx="528.1" cy="209.5" r="4.15"/>
<circle cx="509.7" cy="189.0" r="4.15"/>
<circle cx="511.6" cy="204.5" r="4.15"/>
<circle cx="519.2" cy="199.6" r="4.15"/>
<circle cx="519.0" cy="203.7" r="4.15"/>
<circle cx="521.1" cy="214.5" r="4.15"/>
<circle cx="516.7" cy="200.1" r="4.15"/>
<circle cx="512.7" cy="186.6" r="4.15"/>
<circle cx="518.4" cy="208.1" r="4.15"/>
<circle cx="514.3" cy="193.3" r="4.15"/>
<circle cx="513.8" cy="199.3" r="4.15"/>
<circle cx="513.6" cy="202.2" r="4.15"/>
<circle cx="518.8" cy="201.3" r="4.15"/>
<circle cx="521.7" cy="198.3" r="4.15"/>
<circle cx="517.8" cy="215.0" r="4.15"/>
<circle cx="516.7" cy="205.7" r="4.15"/>
<circle cx="517.3" cy="193.5" r="4.15"/>
<circle cx="514.1" cy="190.0" r="4.15"/>
<circle cx="517.0" cy="192.1" r="4.15"/>
<circle cx="514.3" cy="209.8" r="4.15"/>
<circle cx="516.1" cy="209.0" r="4.15"/>
<circle cx="518.6" cy="206.3" r="4.15"/>
<circle cx="513.1" cy="199.3" r="4.15"/>
<circle cx="523.2" cy="200.2" r="4.15"/>
<circle cx="522.2" cy="186.6" r="4.15"/>
<circle cx="511.6" cy="202.1" r="4.15"/>
<circle cx="522.0" cy="193.9" r="4.15"/>
<circle cx="515.7" cy="194.4" r="4.15"/>
<circle cx="515.7" cy="186.2" r="4.15"/>
<circle cx="507.9" cy="197.1" r="4.15"/>
<circle cx="506.0" cy="188.3" r="4.15"/>
<circle cx="512.7" cy="187.6" r="4.15"/>
<circle cx="518.3" cy="193.5" r="4.15"/>
<circle cx="516.3" cy="188.0" r="4.15"/>
<circle cx="512.2" cy="202.7" r="4.15"/>
<circle cx="519.1" cy="193.2" r="4.15"/>
<circle cx="519.1" cy="199.5" r="4.15"/>
<circle cx="517.8" cy="213.2" r="4.15"/>
<circle cx="514.3" cy="201.8" r="4.15"/>
<circle cx="519.4" cy="195.4" r="4.15"/>
<circle cx="509.5" cy="204.3" r="4.15"/>
<circle cx="518.4" cy="198.1" r="4.15"/>
<circle cx="516.9" cy="197.8" r="4.15"/>
<circle cx="511.1" cy="200.4" r="4.15"/>
<circle cx="505.4" cy="197.3" r="4.15"/>
<circle cx="507.3" cy="194.1" r="4.15"/>
<circle cx="521.1" cy="195.0" r="4.15"/>
<circle cx="513.6" cy="202.5" r="4.15"/>
<circle cx="514.9" cy="193.5" r="4.15"/>
<circle cx="514.2" cy="212.1" r="4.15"/>
<circle cx="520.7" cy="202.1" r="4.15"/>
<circle cx="509.2" cy="203.5" r="4.15"/>
<circle cx="508.5" cy="202.1" r="4.15"/>
<circle cx="506.0" cy="209.2" r="4.15"/>
<circle cx="521.6" cy="180.2" r="4.15"/>
<circle cx="515.0" cy="211.4" r="4.15"/>
<circle cx="523.6" cy="181.3" r="4.15"/>
<circle cx="513.3" cy="186.0" r="4.15"/>
<circle cx="510.1" cy="191.1" r="4.15"/>
<circle cx="528.0" cy="198.6" r="4.15"/>
<circle cx="515.1" cy="194.1" r="4.15"/>
<circle cx="520.7" cy="204.0" r="4.15"/>
<circle cx="510.8" cy="211.5" r="4.15"/>
<circle cx="509.8" cy="194.7" r="4.15"/>
<circle cx="519.3" cy="213.9" r="4.15"/>
<circle cx="514.4" cy="200.1" r="4.15"/>
<circle cx="524.6" cy="203.4" r="4.15"/>
<circle cx="523.5" cy="207.4" r="4.15"/>
<circle cx="518.1" cy="203.5" r="4.15"/>
<circle cx="522.2" cy="197.0" r="4.15"/>
<circle cx="510.8" cy="211.3" r="4.15"/>
<circle cx="519.2" cy="191.1" r="4.15"/>
<circle cx="518.9" cy="207.9" r="4.15"/>
<circle cx="513.0" cy="204.7" r="4.15"/>
<circle cx="515.8" cy="196.2" r="4.15"/>
<circle cx="516.1" cy="208.1" r="4.15"/>
<circle cx="509.5" cy="193.8" r="4.15"/>
<circle cx="520.7" cy="185.5" r="4.15"/>
<circle cx="506.7" cy="202.8" r="4.15"/>
<circle cx="516.5" cy="195.9" r="4.15"/>
<circle cx="517.4" cy="187.9" r="4.15"/>
<circle cx="513.8" cy="183.6" r="4.15"/>
<circle cx="513.9" cy="212.1" r="4.15"/>
<circle cx="516.6" cy="203.1" r="4.15"/>
<circle cx="513.5" cy="214.9" r="4.15"/>
<circle cx="517.5" cy="185.2" r="4.15"/>
<circle cx="521.3" cy="193.7" r="4.15"/>
<circle cx="520.3" cy="198.7" r="4.15"/>
<circle cx="518.2" cy="198.7" r="4.15"/>
<circle cx="510.9" cy="182.8" r="4.15"/>
<circle cx="522.6" cy="196.0" r="4.15"/>
<circle cx="518.3" cy="192.8" r="4.15"/>
<circle cx="525.2" cy="189.7" r="4.15"/>
<circle cx="514.1" cy="183.1" r="4.15"/>
<circle cx="513.2" cy="193.7" r="4.15"/>
<circle cx="515.1" cy="196.6" r="4.15"/>
<circle cx="512.6" cy="191.7" r="4.15"/>
<circle cx="516.4" cy="200.4" r="4.15"/>
<circle cx="515.6" cy="214.2" r="4.15"/>
<circle cx="517.8" cy="198.9" r="4.15"/>
<circle cx="512.4" cy="207.3" r="4.15"/>
<circle cx="510.1" cy="181.6" r="4.15"/>
<circle cx="510.4" cy="203.3" r="4.15"/>
<circle cx="509.3" cy="209.8" r="4.15"/>
<circle cx="516.3" cy="182.6" r="4.15"/>
<circle cx="515.1" cy="214.6" r="4.15"/>
<circle cx="511.1" cy="184.6" r="4.15"/>
<circle cx="519.7" cy="209.9" r="4.15"/>
<circle cx="522.8" cy="194.1" r="4.15"/>
<circle cx="517.6" cy="200.4" r="4.15"/>
<circle cx="515.8" cy="209.8" r="4.15"/>
<circle cx="514.3" cy="202.9" r="4.15"/>
<circle cx="510.6" cy="189.8" r="4.15"/>
<circle cx="519.1" cy="188.5" r="4.15"/>
<circle cx="522.0" cy="191.9" r="4.15"/>
<circle cx="517.0" cy="196.5" r="4.15"/>
<circle cx="514.4" cy="198.5" r="4.15"/>
<circle cx="509.1" cy="200.2" r="4.15"/>
<circle cx="515.4" cy="188.4" r="4.15"/>
<circle cx="518.3" cy="188.7" r="4.15"/>
<circle cx="516.0" cy="209.3" r="4.15"/>
<circle cx="503.9" cy="199.6" r="4.15"/>
<circle cx="519.3" cy="188.0" r="4.15"/>
<circle cx="519.7" cy="200.7" r="4.15"/>
<circle cx="514.3" cy="209.0" r="4.15"/>
<circle cx="508.3" cy="203.5" r="4.15"/>
<circle cx="515.0" cy="187.0" r="4.15"/>
<circle cx="515.4" cy="193.9" r="4.15"/>
<circle cx="521.6" cy="182.8" r="4.15"/>
<circle cx="515.3" cy="192.8" r="4.15"/>
<circle cx="526.3" cy="186.4" r="4.15"/>
<circle cx="523.1" cy="180.2" r="4.15"/>
<circle cx="518.6" cy="195.9" r="4.15"/>
<circle cx="518.8" cy="190.4" r="4.15"/>
<circle cx="524.6" cy="199.2" r="4.15"/>
<circle cx="511.0" cy="205.9" r="4.15"/>
<circle cx="511.8" cy="190.0" r="4.15"/>
<circle cx="508.8" cy="208.5" r="4.15"/>
<circle cx="528.6" cy="187.8" r="4.15"/>
<circle cx="518.2" cy="206.6" r="4.15"/>
<circle cx="517.2" cy="203.4" r="4.15"/>
<circle cx="507.1" cy="201.0" r="4.15"/>
<circle cx="517.6" cy="204.1" r="4.15"/>
<circle cx="512.7" cy="201.1" r="4.15"/>
<circle cx="512.6" cy="202.9" r="4.15"/>
<circle cx="517.3" cy="193.4" r="4.15"/>
<circle cx="507.5" cy="213.0" r="4.15"/>
<circle cx="523.2" cy="205.6" r="4.15"/>
<circle cx="512.2" cy="193.6" r="4.15"/>
<circle cx="526.8" cy="204.2" r="4.15"/>
<circle cx="511.0" cy="197.5" r="4.15"/>
<circle cx="517.2" cy="195.1" r="4.15"/>
<circle cx="510.4" cy="209.2" r="4.15"/>
<circle cx="520.0" cy="195.1" r="4.15"/>
<circle cx="506.5" cy="191.4" r="4.15"/>
<circle cx="516.3" cy="205.5" r="4.15"/>
<circle cx="514.1" cy="207.8" r="4.15"/>
<circle cx="517.3" cy="189.9" r="4.15"/>
<circle cx="507.1" cy="195.7" r="4.15"/>
<circle cx="518.5" cy="210.7" r="4.15"/>
<circle cx="516.3" cy="186.0" r="4.15"/>
<circle cx="514.8" cy="194.7" r="4.15"/>
<circle cx="508.0" cy="203.4" r="4.15"/>
<circle cx="518.8" cy="212.7" r="4.15"/>
<circle cx="523.4" cy="205.7" r="4.15"/>
<circle cx="524.3" cy="194.5" r="4.15"/>
<circle cx="513.7" cy="196.8" r="4.15"/>
<circle cx="508.7" cy="195.9" r="4.15"/>
<circle cx="514.5" cy="203.8" r="4.15"/>
<circle cx="516.4" cy="178.8" r="4.15"/>
<circle cx="516.7" cy="211.1" r="4.15"/>
<circle cx="505.1" cy="190.0" r="4.15"/>
<circle cx="516.7" cy="184.5" r="4.15"/>
<circle cx="513.1" cy="198.0" r="4.15"/>
<circle cx="508.3" cy="200.3" r="4.15"/>
<circle cx="519.1" cy="185.1" r="4.15"/>
<circle cx="516.8" cy="207.9" r="4.15"/>
<circle cx="515.5" cy="201.7" r="4.15"/>
<circle cx="520.6" cy="195.2" r="4.15"/>
<circle cx="522.8" cy="201.2" r="4.15"/>
<circle cx="510.5" cy="202.6" r="4.15"/>
<circle cx="522.1" cy="205.4" r="4.15"/>
<circle cx="512.7" cy="202.0" r="4.15"/>
<circle cx="525.3" cy="199.9" r="4.15"/>
<circle cx="524.1" cy="210.2" r="4.15"/>
<circle cx="516.5" cy="204.0" r="4.15"/>
<circle cx="514.9" cy="208.0" r="4.15"/>
<circle cx="516.2" cy="192.3" r="4.15"/>
<circle cx="516.6" cy="197.0" r="4.15"/>
<circle cx="519.1" cy="202.2" r="4.15"/>
<circle cx="509.5" cy="191.4" r="4.15"/>
<circle cx="519.0" cy="202.4" r="4.15"/>
<circle cx="523.8" cy="197.0" r="4.15"/>
<circle cx="521.4" cy="210.8" r="4.15"/>
<circle cx="519.1" cy="180.9" r="4.15"/>
<circle cx="517.5" cy="198.4" r="4.15"/>
<circle cx="526.5" cy="196.4" r="4.15"/>
<circle cx="522.7" cy="195.1" r="4.15"/>
<circle cx="518.0" cy="208.9" r="4.15"/>
<circle cx="517.5" cy="208.2" r="4.15"/>
<circle cx="516.4" cy="194.0" r="4.15"/>
<circle cx="515.6" cy="193.1" r="4.15"/>
<circle cx="516.2" cy="211.2" r="4.15"/>
<circle cx="509.7" cy="182.0" r="4.15"/>
<circle cx="516.9" cy="214.4" r="4.15"/>
<circle cx="523.5" cy="210.9" r="4.15"/>
<circle cx="524.8" cy="191.0" r="4.15"/>
<circle cx="513.2" cy="204.0" r="4.15"/>
<circle cx="508.9" cy="200.3" r="4.15"/>
<circle cx="526.0" cy="183.6" r="4.15"/>
<circle cx="523.7" cy="182.6" r="4.15"/>
<circle cx="513.9" cy="194.0" r="4.15"/>
<circle cx="517.4" cy="196.6" r="4.15"/>
<circle cx="520.4" cy="208.7" r="4.15"/>
<circle cx="517.7" cy="205.7" r="4.15"/>
<circle cx="510.7" cy="203.5" r="4.15"/>
<circle cx="528.9" cy="200.2" r="4.15"/>
<circle cx="524.1" cy="195.6" r="4.15"/>
<circle cx="523.1" cy="192.6" r="4.15"/>
<circle cx="521.6" cy="202.5" r="4.15"/>
<circle cx="519.9" cy="212.0" r="4.15"/>
<circle cx="524.1" cy="193.0" r="4.15"/>
<circle cx="523.0" cy="182.3" r="4.15"/>
<circle cx="520.8" cy="203.8" r="4.15"/>
<circle cx="517.9" cy="207.0" r="4.15"/>
<circle cx="514.8" cy="205.5" r="4.15"/>
<circle cx="515.9" cy="194.9" r="4.15"/>
<circle cx="518.4" cy="198.5" r="4.15"/>
<circle cx="518.5" cy="182.7" r="4.15"/>
<circle cx="524.4" cy="198.9" r="4.15"/>
<circle cx="519.0" cy="206.0" r="4.15"/>
<circle cx="517.1" cy="201.5" r="4.15"/>
<circle cx="519.1" cy="194.8" r="4.15"/>
<circle cx="528.4" cy="186.7" r="4.15"/>
<circle cx="526.4" cy="180.5" r="4.15"/>
<circle cx="510.1" cy="214.7" r="4.15"/>
<circle cx="507.6" cy="190.8" r="4.15"/>
<circle cx="518.5" cy="205.6" r="4.15"/>
<circle cx="512.1" cy="202.5" r="4.15"/>
<circle cx="508.5" cy="204.1" r="4.15"/>
<circle cx="527.5" cy="193.5" r="4.15"/>
<circle cx="507.2" cy="208.3" r="4.15"/>
<circle cx="503.3" cy="193.4" r="4.15"/>
<circle cx="520.1" cy="204.4" r="4.15"/>
<circle cx="521.1" cy="185.6" r="4.15"/>
<circle cx="506.3" cy="187.4" r="4.15"/>
<circle cx="517.4" cy="179.9" r="4.15"/>
<circle cx="511.3" cy="214.0" r="4.15"/>
<circle cx="515.8" cy="177.0" r="4.15"/>
<circle cx="524.5" cy="188.2" r="4.15"/>
<circle cx="519.1" cy="190.0" r="4.15"/>
<circle cx="504.6" cy="206.8" r="4.15"/>
<circle cx="521.0" cy="219.1" r="4.15"/>
<circle cx="515.9" cy="192.0" r="4.15"/>
<circle cx="526.6" cy="182.7" r="4.15"/>
<circle cx="514.9" cy="177.3" r="4.15"/>
<circle cx="521.0" cy="192.2" r="4.15"/>
<circle cx="514.8" cy="196.8" r="4.15"/>
<circle cx="503.8" cy="201.0" r="4.15"/>
<circle cx="530.0" cy="187.1" r="4.15"/>
<circle cx="528.1" cy="196.8" r="4.15"/>
<circle cx="505.4" cy="179.0" r="4.15"/>
<circle cx="530.6" cy="204.0" r="4.15"/>
<circle cx="525.6" cy="177.7" r="4.15"/>
<circle cx="513.3" cy="182.3" r="4.15"/>
<circle cx="534.5" cy="201.7" r="4.15"/>
<circle cx="520.5" cy="191.1" r="4.15"/>
<circle cx="539.8" cy="189.1" r="4.15"/>
<circle cx="537.0" cy="174.8" r="4.15"/>
<circle cx="542.0" cy="184.7" r="4.15"/>
<circle cx="535.0" cy="198.8" r="4.15"/>
<circle cx="531.4" cy="175.1" r="4.15"/>
<circle cx="540.8" cy="198.5" r="4.15"/>
<circle cx="533.5" cy="174.6" r="4.15"/>
<circle cx="542.2" cy="206.2" r="4.15"/>
<circle cx="536.2" cy="182.7" r="4.15"/>
<circle cx="536.7" cy="208.7" r="4.15"/>
<circle cx="536.1" cy="204.3" r="4.15"/>
<circle cx="532.7" cy="189.7" r="4.15"/>
<circle cx="542.8" cy="195.0" r="4.15"/>
<circle cx="536.5" cy="186.5" r="4.15"/>
<circle cx="535.1" cy="183.0" r="4.15"/>
<circle cx="544.6" cy="188.9" r="4.15"/>
<circle cx="542.6" cy="200.8" r="4.15"/>
<circle cx="536.4" cy="192.0" r="4.15"/>
<circle cx="539.4" cy="206.8" r="4.15"/>
<circle cx="537.1" cy="191.8" r="4.15"/>
<circle cx="542.0" cy="192.7" r="4.15"/>
<circle cx="536.5" cy="204.3" r="4.15"/>
<circle cx="572.4" cy="195.8" r="4.15"/>
<circle cx="571.3" cy="190.4" r="4.15"/>
<circle cx="568.1" cy="202.6" r="4.15"/>
<circle cx="561.0" cy="196.8" r="4.15"/>
<circle cx="570.5" cy="207.4" r="4.15"/>
<circle cx="575.1" cy="185.5" r="4.15"/>
<circle cx="563.6" cy="180.8" r="4.15"/>
<circle cx="571.8" cy="189.7" r="4.15"/>
<circle cx="568.9" cy="195.3" r="4.15"/>
<circle cx="570.5" cy="197.6" r="4.15"/>
<circle cx="569.3" cy="179.1" r="4.15"/>
<circle cx="573.9" cy="187.7" r="4.15"/>
<circle cx="568.0" cy="188.4" r="4.15"/>
<circle cx="567.3" cy="192.7" r="4.15"/>
<circle cx="567.6" cy="183.4" r="4.15"/>
<circle cx="572.3" cy="187.9" r="4.15"/>
<circle cx="574.3" cy="191.5" r="4.15"/>
<circle cx="565.9" cy="196.6" r="4.15"/>
<circle cx="572.4" cy="184.9" r="4.15"/>
<circle cx="567.6" cy="205.1" r="4.15"/>
<circle cx="564.7" cy="185.5" r="4.15"/>
<circle cx="569.4" cy="182.4" r="4.15"/>
<circle cx="570.3" cy="198.5" r="4.15"/>
<circle cx="571.2" cy="196.2" r="4.15"/>
<circle cx="563.7" cy="198.7" r="4.15"/>
<circle cx="573.5" cy="186.8" r="4.15"/>
<circle cx="572.6" cy="189.7" r="4.15"/>
<circle cx="569.5" cy="196.0" r="4.15"/>
<circle cx="562.7" cy="205.5" r="4.15"/>
<circle cx="565.3" cy="192.0" r="4.15"/>
<circle cx="566.7" cy="196.8" r="4.15"/>
<circle cx="570.5" cy="193.1" r="4.15"/>
<circle cx="574.6" cy="195.3" r="4.15"/>
<circle cx="567.6" cy="190.4" r="4.15"/>
<circle cx="565.2" cy="185.5" r="4.15"/>
<circle cx="571.2" cy="201.9" r="4.15"/>
<circle cx="565.9" cy="195.1" r="4.15"/>
<circle cx="563.2" cy="199.2" r="4.15"/>
<circle cx="570.2" cy="187.6" r="4.15"/>
<circle cx="568.3" cy="190.7" r="4.15"/>
<circle cx="566.2" cy="204.3" r="4.15"/>
<circle cx="573.1" cy="194.2" r="4.15"/>
<circle cx="567.3" cy="196.3" r="4.15"/>
<circle cx="568.3" cy="198.0" r="4.15"/>
<circle cx="568.6" cy="198.0" r="4.15"/>
<circle cx="563.6" cy="192.0" r="4.15"/>
<circle cx="574.4" cy="184.0" r="4.15"/>
<circle cx="566.0" cy="204.7" r="4.15"/>
<circle cx="570.4" cy="202.1" r="4.15"/>
<circle cx="563.5" cy="180.9" r="4.15"/>
<circle cx="570.5" cy="203.1" r="4.15"/>
<circle cx="562.6" cy="183.3" r="4.15"/>
<circle cx="566.4" cy="191.8" r="4.15"/>
<circle cx="571.2" cy="189.7" r="4.15"/>
<circle cx="570.2" cy="203.7" r="4.15"/>
<circle cx="563.9" cy="187.7" r="4.15"/>
<circle cx="574.3" cy="186.8" r="4.15"/>
<circle cx="567.0" cy="181.1" r="4.15"/>
<circle cx="586.9" cy="168.8" r="4.15"/>
<circle cx="592.7" cy="173.8" r="4.15"/>
<circle cx="584.3" cy="176.2" r="4.15"/>
<circle cx="584.9" cy="203.6" r="4.15"/>
<circle cx="589.3" cy="192.8" r="4.15"/>
<circle cx="589.8" cy="187.5" r="4.15"/>
<circle cx="580.6" cy="180.4" r="4.15"/>
<circle cx="588.4" cy="197.3" r="4.15"/>
<circle cx="590.5" cy="187.9" r="4.15"/>
<circle cx="586.8" cy="171.1" r="4.15"/>
<circle cx="591.7" cy="199.3" r="4.15"/>
<circle cx="590.7" cy="164.5" r="4.15"/>
<circle cx="590.4" cy="194.5" r="4.15"/>
<circle cx="583.2" cy="186.7" r="4.15"/>
<circle cx="582.5" cy="193.7" r="4.15"/>
<circle cx="583.5" cy="197.3" r="4.15"/>
<circle cx="590.8" cy="181.5" r="4.15"/>
<circle cx="587.1" cy="178.4" r="4.15"/>
<circle cx="593.2" cy="184.3" r="4.15"/>
<circle cx="590.9" cy="169.7" r="4.15"/>
<circle cx="590.4" cy="173.9" r="4.15"/>
<circle cx="591.0" cy="180.7" r="4.15"/>
<circle cx="585.8" cy="192.6" r="4.15"/>
<circle cx="583.1" cy="204.2" r="4.15"/>
<circle cx="598.8" cy="191.2" r="4.15"/>
<circle cx="593.6" cy="183.7" r="4.15"/>
<circle cx="591.3" cy="184.0" r="4.15"/>
<circle cx="597.4" cy="183.6" r="4.15"/>
<circle cx="598.1" cy="158.4" r="4.15"/>
<circle cx="591.2" cy="177.6" r="4.15"/>
<circle cx="590.8" cy="186.1" r="4.15"/>
<circle cx="587.9" cy="201.6" r="4.15"/>
<circle cx="591.5" cy="194.5" r="4.15"/>
<circle cx="607.1" cy="195.8" r="4.15"/>
<circle cx="612.8" cy="165.6" r="4.15"/>
<circle cx="590.3" cy="189.7" r="4.15"/>
<circle cx="596.5" cy="196.5" r="4.15"/>
<circle cx="599.3" cy="194.9" r="4.15"/>
<circle cx="607.5" cy="191.1" r="4.15"/>
<circle cx="603.2" cy="171.1" r="4.15"/>
<circle cx="596.4" cy="152.4" r="4.15"/>
<circle cx="595.7" cy="159.7" r="4.15"/>
<circle cx="606.5" cy="156.3" r="4.15"/>
<circle cx="592.9" cy="198.8" r="4.15"/>
<circle cx="598.5" cy="153.7" r="4.15"/>
<circle cx="606.0" cy="177.0" r="4.15"/>
<circle cx="609.0" cy="167.5" r="4.15"/>
<circle cx="609.6" cy="172.9" r="4.15"/>
<circle cx="609.0" cy="174.1" r="4.15"/>
<circle cx="610.6" cy="167.7" r="4.15"/>
<circle cx="610.0" cy="173.3" r="4.15"/>
<circle cx="608.6" cy="171.3" r="4.15"/>
<circle cx="610.4" cy="167.2" r="4.15"/>
<circle cx="608.3" cy="168.1" r="4.15"/>
<circle cx="608.8" cy="172.2" r="4.15"/>
<circle cx="605.9" cy="170.4" r="4.15"/>
</g>
<path class="cv" d="M485.1,199.6 L488.7,199.3 L492.3,198.8 L495.8,198.3 L499.4,197.7 L503.0,197.0 L506.6,196.3 L510.2,195.6 L513.8,194.7 L517.4,193.7 L520.9,192.6 L524.5,191.5 L528.1,190.4 L531.7,189.3 L535.3,188.1 L538.9,187.0 L542.4,186.0 L546.0,184.8 L549.6,183.7 L553.2,182.6 L556.8,181.5 L560.4,180.4 L563.9,179.3 L567.5,178.3 L571.1,177.3 L574.7,176.2 L578.3,175.1 L581.9,173.9 L585.4,172.7 L589.0,171.4 L592.6,169.9 L596.2,168.4 L599.8,166.7 L603.4,165.1 L606.9,163.4 L610.5,161.6 L614.1,159.9 L617.7,158.1 L621.3,156.4 L624.9,154.6 L628.4,152.9 L632.0,151.1 L635.6,149.3 L639.2,147.5 L642.8,145.8 L646.4,144.0 L650.0,142.2 L653.5,140.4 L657.1,138.6 L660.7,136.8 L664.3,135.0 L667.9,133.2 L671.5,131.4 L675.0,129.7 L678.6,127.9 L682.2,126.1 L685.8,124.4 L689.4,122.6 L693.0,120.8 L696.5,119.1"/>
<path class="ax" d="M464.5,19.3H720.9V225.0H464.5ZM550.0,225.0v-4.9M550.0,19.3v4.9M635.4,225.0v-4.9M635.4,19.3v4.9M464.5,122.2h4.9M720.9,122.2h-4.9"/>
<text class="tk" x="463.5" y="252.6" text-anchor="middle">0</text>
<text class="tk" x="549.0" y="252.6" text-anchor="middle">1000</text>
<text class="tk" x="634.4" y="252.6" text-anchor="middle">2000</text>
<text class="tk" x="719.9" y="252.6" text-anchor="middle">3000</text>
<text class="tk" x="454.0" y="229.3" text-anchor="end">0</text>
<text class="tk" x="454.0" y="126.5" text-anchor="end">20</text>
<text class="tk" x="454.0" y="23.6" text-anchor="end">40</text>
<text x="484.0" y="55.4" font-size="26">b</text>
</g>
<g id="panel-c">
<g class="pt">
<circle cx="251.3" cy="366.7" r="4.15"/>
<circle cx="244.8" cy="396.5" r="4.15"/>
<circle cx="253.0" cy="397.0" r="4.15"/>
<circle cx="275.2" cy="396.5" r="4.15"/>
<circle cx="245.9" cy="401.4" r="4.15"/>
<circle cx="245.0" cy="413.7" r="4.15"/>
<circle cx="257.5" cy="414.2" r="4.15"/>
<circle cx="239.0" cy="422.2" r="4.15"/>
<circle cx="260.7" cy="422.3" r="4.15"/>
<circle cx="254.8" cy="436.8" r="4.15"/>
<circle cx="281.5" cy="435.7" r="4.15"/>
<circle cx="238.5" cy="441.2" r="4.15"/>
<circle cx="252.6" cy="449.3" r="4.15"/>
<circle cx="165.4" cy="363.1" r="4.15"/>
<circle cx="209.9" cy="362.7" r="4.15"/>
<circle cx="177.7" cy="369.9" r="4.15"/>
<circle cx="195.4" cy="377.5" r="4.15"/>
<circle cx="175.9" cy="388.4" r="4.15"/>
<circle cx="171.4" cy="389.3" r="4.15"/>
<circle cx="169.6" cy="395.1" r="4.15"/>
<circle cx="178.1" cy="409.2" r="4.15"/>
<circle cx="206.6" cy="409.2" r="4.15"/>
<circle cx="174.6" cy="415.5" r="4.15"/>
<circle cx="168.3" cy="422.3" r="4.15"/>
<circle cx="163.6" cy="424.0" r="4.15"/>
<circle cx="143.4" cy="427.8" r="4.15"/>
<circle cx="160.5" cy="429.9" r="4.15"/>
<circle cx="173.2" cy="428.1" r="4.15"/>
<circle cx="179.5" cy="429.6" r="4.15"/>
<circle cx="183.5" cy="434.5" r="4.15"/>
<circle cx="177.7" cy="436.8" r="4.15"/>
<circle cx="199.9" cy="431.4" r="4.15"/>
<circle cx="216.6" cy="428.5" r="4.15"/>
<circle cx="224.7" cy="435.0" r="4.15"/>
<circle cx="146.6" cy="439.9" r="4.15"/>
<circle cx="151.1" cy="446.2" r="4.15"/>
<circle cx="212.1" cy="442.2" r="4.15"/>
<circle cx="197.6" cy="447.1" r="4.15"/>
<circle cx="226.5" cy="445.8" r="4.15"/>
<circle cx="219.3" cy="452.9" r="4.15"/>
<circle cx="228.3" cy="457.4" r="4.15"/>
<circle cx="231.0" cy="461.0" r="4.15"/>
<circle cx="200.3" cy="454.7" r="4.15"/>
<circle cx="204.8" cy="452.9" r="4.15"/>
<circle cx="206.6" cy="457.4" r="4.15"/>
<circle cx="154.2" cy="454.7" r="4.15"/>
<circle cx="150.6" cy="457.4" r="4.15"/>
<circle cx="157.8" cy="453.8" r="4.15"/>
<circle cx="172.3" cy="445.7" r="4.15"/>
<circle cx="181.3" cy="448.4" r="4.15"/>
<circle cx="183.1" cy="451.1" r="4.15"/>
<circle cx="190.4" cy="458.3" r="4.15"/>
<circle cx="133.4" cy="473.7" r="4.15"/>
<circle cx="138.0" cy="472.8" r="4.15"/>
<circle cx="212.1" cy="459.2" r="4.15"/>
<circle cx="215.7" cy="461.0" r="4.15"/>
<circle cx="217.5" cy="463.7" r="4.15"/>
<circle cx="208.4" cy="462.9" r="4.15"/>
<circle cx="204.8" cy="475.5" r="4.15"/>
<circle cx="205.2" cy="475.9" r="4.15"/>
<circle cx="204.5" cy="475.1" r="4.15"/>
<circle cx="205.4" cy="475.1" r="4.15"/>
<circle cx="224.7" cy="470.1" r="4.15"/>
<circle cx="219.3" cy="477.3" r="4.15"/>
<circle cx="215.7" cy="482.7" r="4.15"/>
<circle cx="194.0" cy="468.3" r="4.15"/>
<circle cx="199.4" cy="470.1" r="4.15"/>
<circle cx="190.4" cy="477.3" r="4.15"/>
<circle cx="194.0" cy="480.9" r="4.15"/>
<circle cx="188.6" cy="488.2" r="4.15"/>
<circle cx="195.8" cy="491.8" r="4.15"/>
<circle cx="201.2" cy="494.5" r="4.15"/>
<circle cx="206.6" cy="494.5" r="4.15"/>
<circle cx="215.7" cy="491.8" r="4.15"/>
<circle cx="178.6" cy="501.7" r="4.15"/>
<circle cx="176.8" cy="499.0" r="4.15"/>
<circle cx="152.4" cy="504.4" r="4.15"/>
<circle cx="148.8" cy="503.5" r="4.15"/>
<circle cx="156.0" cy="503.5" r="4.15"/>
<circle cx="136.1" cy="488.2" r="4.15"/>
<circle cx="135.2" cy="493.6" r="4.15"/>
<circle cx="138.9" cy="497.2" r="4.15"/>
<circle cx="141.6" cy="500.8" r="4.15"/>
<circle cx="220.2" cy="454.0" r="4.15"/>
<circle cx="227.2" cy="456.6" r="4.15"/>
<circle cx="230.7" cy="461.1" r="4.15"/>
<circle cx="246.9" cy="461.1" r="4.15"/>
<circle cx="253.0" cy="464.9" r="4.15"/>
<circle cx="258.8" cy="466.9" r="4.15"/>
<circle cx="261.1" cy="469.1" r="4.15"/>
<circle cx="271.7" cy="465.2" r="4.15"/>
<circle cx="271.7" cy="472.0" r="4.15"/>
<circle cx="270.4" cy="484.0" r="4.15"/>
<circle cx="222.1" cy="471.4" r="4.15"/>
<circle cx="227.6" cy="473.3" r="4.15"/>
<circle cx="219.5" cy="479.1" r="4.15"/>
<circle cx="222.7" cy="478.5" r="4.15"/>
<circle cx="217.6" cy="481.7" r="4.15"/>
<circle cx="231.7" cy="484.3" r="4.15"/>
<circle cx="233.0" cy="486.2" r="4.15"/>
<circle cx="215.6" cy="492.0" r="4.15"/>
<circle cx="216.9" cy="462.4" r="4.15"/>
<circle cx="218.9" cy="464.9" r="4.15"/>
<circle cx="163.1" cy="469.4" r="4.15"/>
<circle cx="174.9" cy="451.5" r="4.15"/>
<circle cx="174.8" cy="482.4" r="4.15"/>
<circle cx="146.5" cy="493.2" r="4.15"/>
<circle cx="166.8" cy="461.5" r="4.15"/>
<circle cx="151.4" cy="490.0" r="4.15"/>
<circle cx="167.7" cy="482.3" r="4.15"/>
<circle cx="170.4" cy="462.7" r="4.15"/>
<circle cx="179.6" cy="483.9" r="4.15"/>
<circle cx="175.6" cy="488.2" r="4.15"/>
<circle cx="165.8" cy="464.3" r="4.15"/>
<circle cx="155.5" cy="490.0" r="4.15"/>
<circle cx="180.8" cy="482.3" r="4.15"/>
<circle cx="165.0" cy="472.1" r="4.15"/>
<circle cx="175.3" cy="454.5" r="4.15"/>
<circle cx="178.5" cy="467.8" r="4.15"/>
<circle cx="160.5" cy="474.0" r="4.15"/>
<circle cx="161.7" cy="492.2" r="4.15"/>
<circle cx="162.0" cy="489.6" r="4.15"/>
<circle cx="153.3" cy="476.5" r="4.15"/>
<circle cx="168.5" cy="462.5" r="4.15"/>
<circle cx="172.5" cy="461.9" r="4.15"/>
<circle cx="155.9" cy="474.1" r="4.15"/>
<circle cx="156.2" cy="478.7" r="4.15"/>
<circle cx="150.8" cy="483.8" r="4.15"/>
<circle cx="141.5" cy="496.4" r="4.15"/>
<circle cx="178.3" cy="468.6" r="4.15"/>
<circle cx="178.1" cy="460.2" r="4.15"/>
<circle cx="169.2" cy="463.9" r="4.15"/>
<circle cx="175.2" cy="483.4" r="4.15"/>
<circle cx="166.8" cy="495.1" r="4.15"/>
<circle cx="162.1" cy="488.6" r="4.15"/>
<circle cx="163.8" cy="475.4" r="4.15"/>
<circle cx="178.0" cy="453.9" r="4.15"/>
<circle cx="169.5" cy="471.1" r="4.15"/>
<circle cx="143.3" cy="493.9" r="4.15"/>
<circle cx="177.9" cy="453.9" r="4.15"/>
<circle cx="174.0" cy="493.5" r="4.15"/>
<circle cx="179.5" cy="461.3" r="4.15"/>
<circle cx="170.2" cy="476.0" r="4.15"/>
<circle cx="161.7" cy="480.4" r="4.15"/>
<circle cx="174.5" cy="492.6" r="4.15"/>
<circle cx="180.8" cy="472.9" r="4.15"/>
<circle cx="176.3" cy="490.8" r="4.15"/>
<circle cx="163.4" cy="481.1" r="4.15"/>
<circle cx="173.5" cy="490.9" r="4.15"/>
<circle cx="164.1" cy="484.0" r="4.15"/>
<circle cx="167.0" cy="480.6" r="4.15"/>
<circle cx="154.0" cy="488.2" r="4.15"/>
<circle cx="168.3" cy="477.7" r="4.15"/>
<circle cx="166.0" cy="492.8" r="4.15"/>
<circle cx="161.2" cy="489.9" r="4.15"/>
<circle cx="178.5" cy="454.3" r="4.15"/>
<circle cx="170.4" cy="479.1" r="4.15"/>
<circle cx="171.1" cy="473.2" r="4.15"/>
<circle cx="165.1" cy="477.8" r="4.15"/>
<circle cx="174.4" cy="465.1" r="4.15"/>
<circle cx="156.6" cy="483.6" r="4.15"/>
<circle cx="175.6" cy="458.4" r="4.15"/>
<circle cx="163.9" cy="472.8" r="4.15"/>
<circle cx="172.4" cy="492.4" r="4.15"/>
<circle cx="165.3" cy="460.3" r="4.15"/>
<circle cx="163.5" cy="488.7" r="4.15"/>
<circle cx="159.4" cy="471.2" r="4.15"/>
<circle cx="141.9" cy="490.8" r="4.15"/>
<circle cx="146.5" cy="494.9" r="4.15"/>
<circle cx="175.9" cy="475.0" r="4.15"/>
<circle cx="151.0" cy="482.1" r="4.15"/>
<circle cx="179.3" cy="455.8" r="4.15"/>
<circle cx="176.6" cy="466.2" r="4.15"/>
<circle cx="171.5" cy="469.5" r="4.15"/>
<circle cx="165.4" cy="478.9" r="4.15"/>
<circle cx="172.9" cy="478.1" r="4.15"/>
<circle cx="155.2" cy="483.0" r="4.15"/>
<circle cx="157.0" cy="487.5" r="4.15"/>
<circle cx="181.1" cy="474.2" r="4.15"/>
<circle cx="145.7" cy="487.7" r="4.15"/>
<circle cx="176.3" cy="451.5" r="4.15"/>
<circle cx="149.1" cy="485.6" r="4.15"/>
<circle cx="168.6" cy="490.4" r="4.15"/>
<circle cx="143.2" cy="493.8" r="4.15"/>
<circle cx="166.2" cy="492.6" r="4.15"/>
<circle cx="167.8" cy="494.6" r="4.15"/>
<circle cx="154.9" cy="494.7" r="4.15"/>
<circle cx="174.9" cy="487.3" r="4.15"/>
<circle cx="160.2" cy="482.8" r="4.15"/>
<circle cx="149.9" cy="496.8" r="4.15"/>
<circle cx="176.0" cy="473.9" r="4.15"/>
<circle cx="178.7" cy="462.9" r="4.15"/>
<circle cx="144.3" cy="495.0" r="4.15"/>
<circle cx="165.9" cy="490.6" r="4.15"/>
<circle cx="168.8" cy="456.4" r="4.15"/>
<circle cx="180.5" cy="461.1" r="4.15"/>
<circle cx="153.0" cy="496.0" r="4.15"/>
<circle cx="169.0" cy="486.2" r="4.15"/>
<circle cx="174.4" cy="457.5" r="4.15"/>
<circle cx="157.1" cy="478.2" r="4.15"/>
<circle cx="173.6" cy="458.0" r="4.15"/>
<circle cx="164.4" cy="472.7" r="4.15"/>
<circle cx="164.9" cy="488.6" r="4.15"/>
<circle cx="159.8" cy="493.0" r="4.15"/>
<circle cx="166.6" cy="466.6" r="4.15"/>
<circle cx="165.4" cy="459.6" r="4.15"/>
<circle cx="169.9" cy="455.4" r="4.15"/>
<circle cx="152.7" cy="496.0" r="4.15"/>
<circle cx="163.6" cy="474.1" r="4.15"/>
<circle cx="158.9" cy="491.9" r="4.15"/>
<circle cx="177.9" cy="475.3" r="4.15"/>
<circle cx="153.2" cy="484.5" r="4.15"/>
<circle cx="167.6" cy="472.4" r="4.15"/>
<circle cx="178.2" cy="483.1" r="4.15"/>
<circle cx="165.7" cy="481.6" r="4.15"/>
<circle cx="169.9" cy="471.5" r="4.15"/>
<circle cx="162.8" cy="479.1" r="4.15"/>
<circle cx="171.5" cy="454.6" r="4.15"/>
<circle cx="155.3" cy="488.3" r="4.15"/>
<circle cx="160.3" cy="485.1" r="4.15"/>
<circle cx="155.9" cy="490.5" r="4.15"/>
<circle cx="169.2" cy="461.4" r="4.15"/>
<circle cx="164.9" cy="477.6" r="4.15"/>
<circle cx="176.9" cy="473.2" r="4.15"/>
<circle cx="173.6" cy="467.4" r="4.15"/>
<circle cx="158.9" cy="490.6" r="4.15"/>
<circle cx="158.6" cy="472.7" r="4.15"/>
<circle cx="147.8" cy="482.8" r="4.15"/>
<circle cx="169.2" cy="473.2" r="4.15"/>
<circle cx="177.1" cy="453.1" r="4.15"/>
<circle cx="158.2" cy="475.0" r="4.15"/>
<circle cx="147.8" cy="496.5" r="4.15"/>
<circle cx="153.3" cy="494.9" r="4.15"/>
<circle cx="145.1" cy="489.1" r="4.15"/>
<circle cx="145.9" cy="488.7" r="4.15"/>
<circle cx="180.8" cy="457.8" r="4.15"/>
<circle cx="176.4" cy="472.0" r="4.15"/>
<circle cx="161.0" cy="488.3" r="4.15"/>
<circle cx="160.3" cy="476.0" r="4.15"/>
<circle cx="160.3" cy="489.9" r="4.15"/>
<circle cx="162.4" cy="482.3" r="4.15"/>
<circle cx="163.1" cy="488.1" r="4.15"/>
<circle cx="166.8" cy="457.7" r="4.15"/>
<circle cx="182.4" cy="483.9" r="4.15"/>
<circle cx="157.9" cy="476.0" r="4.15"/>
<circle cx="159.3" cy="492.8" r="4.15"/>
<circle cx="164.1" cy="466.8" r="4.15"/>
<circle cx="180.5" cy="486.2" r="4.15"/>
<circle cx="176.2" cy="485.1" r="4.15"/>
<circle cx="165.1" cy="482.4" r="4.15"/>
<circle cx="175.5" cy="465.6" r="4.15"/>
<circle cx="168.1" cy="460.1" r="4.15"/>
<circle cx="177.9" cy="487.0" r="4.15"/>
<circle cx="160.1" cy="480.6" r="4.15"/>
<circle cx="177.1" cy="474.8" r="4.15"/>
<circle cx="159.8" cy="466.5" r="4.15"/>
<circle cx="170.5" cy="488.1" r="4.15"/>
<circle cx="151.3" cy="477.2" r="4.15"/>
<circle cx="166.9" cy="456.2" r="4.15"/>
<circle cx="163.2" cy="461.6" r="4.15"/>
<circle cx="159.1" cy="490.5" r="4.15"/>
<circle cx="167.9" cy="468.0" r="4.15"/>
<circle cx="169.9" cy="477.1" r="4.15"/>
<circle cx="157.3" cy="484.6" r="4.15"/>
<circle cx="166.5" cy="478.4" r="4.15"/>
<circle cx="152.2" cy="493.2" r="4.15"/>
<circle cx="156.0" cy="497.0" r="4.15"/>
<circle cx="153.3" cy="490.0" r="4.15"/>
<circle cx="168.8" cy="457.2" r="4.15"/>
<circle cx="180.1" cy="482.5" r="4.15"/>
<circle cx="169.7" cy="462.1" r="4.15"/>
<circle cx="174.2" cy="463.3" r="4.15"/>
<circle cx="182.1" cy="453.3" r="4.15"/>
<circle cx="173.2" cy="463.0" r="4.15"/>
<circle cx="141.1" cy="491.3" r="4.15"/>
<circle cx="158.7" cy="469.7" r="4.15"/>
<circle cx="163.0" cy="463.2" r="4.15"/>
<circle cx="164.8" cy="490.6" r="4.15"/>
<circle cx="178.3" cy="462.3" r="4.15"/>
<circle cx="161.9" cy="480.0" r="4.15"/>
<circle cx="178.6" cy="454.3" r="4.15"/>
<circle cx="168.1" cy="493.2" r="4.15"/>
<circle cx="152.5" cy="486.3" r="4.15"/>
<circle cx="170.2" cy="491.9" r="4.15"/>
<circle cx="158.4" cy="490.0" r="4.15"/>
<circle cx="162.1" cy="494.5" r="4.15"/>
<circle cx="171.6" cy="484.5" r="4.15"/>
<circle cx="175.0" cy="486.5" r="4.15"/>
<circle cx="176.7" cy="484.5" r="4.15"/>
<circle cx="150.0" cy="490.0" r="4.15"/>
<circle cx="168.5" cy="486.9" r="4.15"/>
<circle cx="169.0" cy="456.0" r="4.15"/>
<circle cx="146.4" cy="483.6" r="4.15"/>
<circle cx="169.1" cy="489.0" r="4.15"/>
<circle cx="171.1" cy="480.8" r="4.15"/>
<circle cx="180.1" cy="453.7" r="4.15"/>
<circle cx="165.9" cy="460.3" r="4.15"/>
<circle cx="157.9" cy="484.3" r="4.15"/>
<circle cx="180.9" cy="470.3" r="4.15"/>
<circle cx="152.4" cy="489.5" r="4.15"/>
<circle cx="168.1" cy="477.1" r="4.15"/>
<circle cx="164.9" cy="459.6" r="4.15"/>
<circle cx="171.9" cy="453.8" r="4.15"/>
<circle cx="167.2" cy="492.7" r="4.15"/>
<circle cx="169.2" cy="471.3" r="4.15"/>
<circle cx="147.9" cy="495.7" r="4.15"/>
<circle cx="167.9" cy="473.1" r="4.15"/>
<circle cx="155.6" cy="473.0" r="4.15"/>
<circle cx="175.1" cy="457.3" r="4.15"/>
<circle cx="171.6" cy="475.0" r="4.15"/>
<circle cx="179.8" cy="473.9" r="4.15"/>
<circle cx="149.6" cy="494.5" r="4.15"/>
<circle cx="178.3" cy="462.6" r="4.15"/>
<circle cx="156.9" cy="469.7" r="4.15"/>
<circle cx="163.7" cy="463.7" r="4.15"/>
<circle cx="174.4" cy="490.2" r="4.15"/>
<circle cx="156.7" cy="493.9" r="4.15"/>
<circle cx="168.7" cy="480.2" r="4.15"/>
<circle cx="167.8" cy="486.3" r="4.15"/>
<circle cx="150.0" cy="495.1" r="4.15"/>
<circle cx="175.9" cy="477.2" r="4.15"/>
<circle cx="174.0" cy="458.8" r="4.15"/>
<circle cx="155.6" cy="488.8" r="4.15"/>
<circle cx="170.6" cy="454.4" r="4.15"/>
<circle cx="161.8" cy="476.6" r="4.15"/>
<circle cx="157.2" cy="484.3" r="4.15"/>
<circle cx="158.0" cy="487.2" r="4.15"/>
<circle cx="160.3" cy="475.5" r="4.15"/>
<circle cx="160.8" cy="491.0" r="4.15"/>
<circle cx="157.4" cy="491.8" r="4.15"/>
<circle cx="169.1" cy="457.8" r="4.15"/>
<circle cx="151.7" cy="481.4" r="4.15"/>
<circle cx="166.8" cy="481.9" r="4.15"/>
<circle cx="179.4" cy="451.1" r="4.15"/>
<circle cx="143.8" cy="491.0" r="4.15"/>
<circle cx="174.0" cy="483.8" r="4.15"/>
<circle cx="180.0" cy="454.6" r="4.15"/>
<circle cx="150.7" cy="491.1" r="4.15"/>
<circle cx="180.1" cy="482.1" r="4.15"/>
<circle cx="168.1" cy="485.4" r="4.15"/>
<circle cx="182.3" cy="475.8" r="4.15"/>
<circle cx="168.4" cy="484.5" r="4.15"/>
<circle cx="163.3" cy="487.3" r="4.15"/>
<circle cx="159.7" cy="487.2" r="4.15"/>
<circle cx="179.1" cy="463.4" r="4.15"/>
<circle cx="163.6" cy="468.1" r="4.15"/>
<circle cx="162.6" cy="468.0" r="4.15"/>
<circle cx="150.2" cy="487.8" r="4.15"/>
<circle cx="177.0" cy="458.3" r="4.15"/>
<circle cx="158.8" cy="499.3" r="4.15"/>
<circle cx="176.6" cy="493.7" r="4.15"/>
<circle cx="149.3" cy="488.2" r="4.15"/>
<circle cx="161.5" cy="496.4" r="4.15"/>
<circle cx="149.6" cy="502.6" r="4.15"/>
<circle cx="179.5" cy="480.0" r="4.15"/>
<circle cx="145.9" cy="488.7" r="4.15"/>
<circle cx="163.7" cy="471.3" r="4.15"/>
<circle cx="170.7" cy="455.2" r="4.15"/>
<circle cx="177.7" cy="482.7" r="4.15"/>
<circle cx="179.6" cy="465.4" r="4.15"/>
<circle cx="175.4" cy="495.8" r="4.15"/>
<circle cx="164.7" cy="483.9" r="4.15"/>
<circle cx="153.6" cy="479.6" r="4.15"/>
<circle cx="145.3" cy="482.7" r="4.15"/>
<circle cx="180.8" cy="466.4" r="4.15"/>
<circle cx="162.8" cy="463.6" r="4.15"/>
<circle cx="139.1" cy="499.8" r="4.15"/>
<circle cx="145.9" cy="484.2" r="4.15"/>
<circle cx="184.7" cy="464.7" r="4.15"/>
<circle cx="157.0" cy="473.5" r="4.15"/>
<circle cx="141.5" cy="495.0" r="4.15"/>
<circle cx="152.5" cy="486.8" r="4.15"/>
<circle cx="179.6" cy="469.9" r="4.15"/>
<circle cx="158.6" cy="457.4" r="4.15"/>
<circle cx="167.6" cy="467.9" r="4.15"/>
<circle cx="173.6" cy="497.0" r="4.15"/>
<circle cx="184.4" cy="462.9" r="4.15"/>
<circle cx="167.2" cy="464.4" r="4.15"/>
<circle cx="168.2" cy="466.1" r="4.15"/>
<circle cx="155.1" cy="461.5" r="4.15"/>
<circle cx="156.5" cy="500.1" r="4.15"/>
<circle cx="167.7" cy="495.8" r="4.15"/>
<circle cx="183.1" cy="487.7" r="4.15"/>
<circle cx="148.2" cy="497.5" r="4.15"/>
<circle cx="150.4" cy="496.5" r="4.15"/>
<circle cx="149.8" cy="486.2" r="4.15"/>
<circle cx="169.1" cy="497.5" r="4.15"/>
<circle cx="152.7" cy="478.4" r="4.15"/>
<circle cx="148.4" cy="492.9" r="4.15"/>
<circle cx="160.4" cy="471.9" r="4.15"/>
<circle cx="161.3" cy="474.0" r="4.15"/>
<circle cx="178.5" cy="454.5" r="4.15"/>
<circle cx="164.6" cy="481.0" r="4.15"/>
<circle cx="153.3" cy="475.1" r="4.15"/>
<circle cx="182.4" cy="455.6" r="4.15"/>
<circle cx="143.3" cy="482.9" r="4.15"/>
<circle cx="177.4" cy="451.4" r="4.15"/>
<circle cx="170.3" cy="472.8" r="4.15"/>
<circle cx="176.7" cy="493.9" r="4.15"/>
<circle cx="171.3" cy="476.9" r="4.15"/>
<circle cx="156.1" cy="495.4" r="4.15"/>
<circle cx="152.5" cy="499.6" r="4.15"/>
<circle cx="149.3" cy="491.3" r="4.15"/>
<circle cx="206.7" cy="481.5" r="4.15"/>
<circle cx="196.5" cy="466.2" r="4.15"/>
<circle cx="211.3" cy="489.1" r="4.15"/>
<circle cx="199.3" cy="463.9" r="4.15"/>
<circle cx="206.3" cy="467.5" r="4.15"/>
<circle cx="193.6" cy="467.1" r="4.15"/>
<circle cx="201.2" cy="479.8" r="4.15"/>
<circle cx="203.3" cy="482.3" r="4.15"/>
<circle cx="199.6" cy="478.6" r="4.15"/>
<circle cx="199.3" cy="478.3" r="4.15"/>
<circle cx="194.4" cy="468.7" r="4.15"/>
<circle cx="193.1" cy="479.8" r="4.15"/>
<circle cx="209.9" cy="475.8" r="4.15"/>
<circle cx="202.6" cy="469.4" r="4.15"/>
</g>
<path class="cv" d="M135.2,488.5 L137.6,487.1 L140.1,485.8 L142.6,484.4 L145.1,483.1 L147.6,481.8 L150.0,480.5 L152.5,479.3 L155.0,478.1 L157.5,476.9 L159.9,475.7 L162.4,474.6 L164.9,473.5 L167.4,472.4 L169.8,471.3 L172.3,470.3 L174.8,469.2 L177.3,468.2 L179.7,467.2 L182.2,466.2 L184.7,465.2 L187.2,464.2 L189.7,463.3 L192.1,462.3 L194.6,461.3 L197.1,460.4 L199.6,459.5 L202.0,458.5 L204.5,457.6 L207.0,456.7 L209.5,455.8 L211.9,454.9 L214.4,454.1 L216.9,453.2 L219.4,452.4 L221.9,451.7 L224.3,451.0 L226.8,450.3 L229.3,449.7 L231.8,449.1 L234.2,448.4 L236.7,447.8 L239.2,447.2 L241.7,446.6 L244.1,446.0 L246.6,445.4 L249.1,444.9 L251.6,444.3 L254.0,443.7 L256.5,443.2 L259.0,442.6 L261.5,442.1 L264.0,441.5 L266.4,440.9 L268.9,440.4 L271.4,439.8 L273.9,439.3 L276.3,438.7 L278.8,438.2 L281.3,437.6"/>
<path class="ax" d="M106.1,307.4H362.6V513.1H106.1ZM191.6,513.1v-4.9M191.6,307.4v4.9M277.1,513.1v-4.9M277.1,307.4v4.9M106.1,410.2h4.9M362.6,410.2h-4.9"/>
<text class="tk" x="105.1" y="540.7" text-anchor="middle">0</text>
<text class="tk" x="190.6" y="540.7" text-anchor="middle">1000</text>
<text class="tk" x="276.1" y="540.7" text-anchor="middle">2000</text>
<text class="tk" x="361.6" y="540.7" text-anchor="middle">3000</text>
<text class="tk" x="95.6" y="517.4" text-anchor="end">0</text>
<text class="tk" x="95.6" y="414.6" text-anchor="end">20</text>
<text class="tk" x="95.6" y="311.7" text-anchor="end">40</text>
<text x="126.0" y="343.7" font-size="26">c</text>
</g>
<g id="panel-d">
<g class="pt">
<circle cx="614.1" cy="353.4" r="4.15"/>
<circle cx="614.1" cy="357.5" r="4.15"/>
<circle cx="614.1" cy="369.4" r="4.15"/>
<circle cx="632.8" cy="390.7" r="4.15"/>
<circle cx="715.0" cy="369.9" r="4.15"/>
<circle cx="719.0" cy="377.6" r="4.15"/>
<circle cx="695.3" cy="420.7" r="4.15"/>
<circle cx="609.1" cy="427.9" r="4.15"/>
<circle cx="606.9" cy="431.5" r="4.15"/>
<circle cx="621.3" cy="428.8" r="4.15"/>
<circle cx="622.0" cy="429.1" r="4.15"/>
<circle cx="621.6" cy="429.1" r="4.15"/>
<circle cx="665.6" cy="480.4" r="4.15"/>
<circle cx="640.9" cy="464.5" r="4.15"/>
<circle cx="638.3" cy="478.0" r="4.15"/>
<circle cx="637.4" cy="488.8" r="4.15"/>
<circle cx="629.7" cy="463.3" r="4.15"/>
<circle cx="627.9" cy="467.2" r="4.15"/>
<circle cx="627.0" cy="470.8" r="4.15"/>
<circle cx="627.9" cy="473.5" r="4.15"/>
<circle cx="630.3" cy="480.7" r="4.15"/>
<circle cx="627.0" cy="482.5" r="4.15"/>
<circle cx="624.3" cy="492.4" r="4.15"/>
<circle cx="623.4" cy="496.9" r="4.15"/>
<circle cx="627.9" cy="500.0" r="4.15"/>
<circle cx="615.3" cy="490.1" r="4.15"/>
<circle cx="615.7" cy="490.4" r="4.15"/>
<circle cx="615.0" cy="489.7" r="4.15"/>
<circle cx="615.5" cy="489.8" r="4.15"/>
<circle cx="601.9" cy="500.0" r="4.15"/>
<circle cx="609.1" cy="442.1" r="4.15"/>
<circle cx="606.4" cy="444.8" r="4.15"/>
<circle cx="608.2" cy="445.7" r="4.15"/>
<circle cx="609.1" cy="447.4" r="4.15"/>
<circle cx="621.6" cy="447.4" r="4.15"/>
<circle cx="619.8" cy="449.3" r="4.15"/>
<circle cx="618.0" cy="451.1" r="4.15"/>
<circle cx="591.1" cy="443.0" r="4.15"/>
<circle cx="604.6" cy="456.5" r="4.15"/>
<circle cx="610.9" cy="460.1" r="4.15"/>
<circle cx="594.7" cy="451.1" r="4.15"/>
<circle cx="619.8" cy="467.2" r="4.15"/>
<circle cx="618.0" cy="466.3" r="4.15"/>
<circle cx="545.8" cy="407.6" r="4.15"/>
<circle cx="574.6" cy="414.6" r="4.15"/>
<circle cx="581.8" cy="416.4" r="4.15"/>
<circle cx="567.8" cy="425.0" r="4.15"/>
<circle cx="557.5" cy="432.2" r="4.15"/>
<circle cx="558.4" cy="435.8" r="4.15"/>
<circle cx="571.9" cy="435.8" r="4.15"/>
<circle cx="575.5" cy="438.5" r="4.15"/>
<circle cx="579.1" cy="434.0" r="4.15"/>
<circle cx="579.4" cy="434.4" r="4.15"/>
<circle cx="564.7" cy="441.2" r="4.15"/>
<circle cx="585.4" cy="441.2" r="4.15"/>
<circle cx="509.0" cy="443.5" r="4.15"/>
<circle cx="531.1" cy="447.4" r="4.15"/>
<circle cx="546.2" cy="451.6" r="4.15"/>
<circle cx="548.9" cy="451.6" r="4.15"/>
<circle cx="559.7" cy="451.1" r="4.15"/>
<circle cx="564.7" cy="449.3" r="4.15"/>
<circle cx="560.8" cy="455.5" r="4.15"/>
<circle cx="577.3" cy="451.1" r="4.15"/>
<circle cx="570.1" cy="453.8" r="4.15"/>
<circle cx="590.7" cy="450.2" r="4.15"/>
<circle cx="512.1" cy="460.4" r="4.15"/>
<circle cx="523.8" cy="460.1" r="4.15"/>
<circle cx="529.7" cy="460.1" r="4.15"/>
<circle cx="530.6" cy="461.9" r="4.15"/>
<circle cx="530.2" cy="464.5" r="4.15"/>
<circle cx="529.7" cy="466.7" r="4.15"/>
<circle cx="537.8" cy="467.2" r="4.15"/>
<circle cx="555.7" cy="468.1" r="4.15"/>
<circle cx="514.4" cy="469.9" r="4.15"/>
<circle cx="515.3" cy="472.6" r="4.15"/>
<circle cx="523.4" cy="471.7" r="4.15"/>
<circle cx="528.8" cy="473.5" r="4.15"/>
<circle cx="527.9" cy="478.0" r="4.15"/>
<circle cx="540.5" cy="476.2" r="4.15"/>
<circle cx="544.9" cy="477.1" r="4.15"/>
<circle cx="541.4" cy="480.7" r="4.15"/>
<circle cx="536.0" cy="485.2" r="4.15"/>
<circle cx="539.6" cy="488.8" r="4.15"/>
<circle cx="543.2" cy="493.3" r="4.15"/>
<circle cx="534.2" cy="500.5" r="4.15"/>
<circle cx="536.0" cy="503.2" r="4.15"/>
<circle cx="543.2" cy="498.7" r="4.15"/>
<circle cx="546.7" cy="486.1" r="4.15"/>
<circle cx="548.5" cy="478.9" r="4.15"/>
<circle cx="532.4" cy="491.5" r="4.15"/>
<circle cx="530.6" cy="487.9" r="4.15"/>
<circle cx="516.2" cy="480.7" r="4.15"/>
<circle cx="516.2" cy="484.3" r="4.15"/>
<circle cx="515.3" cy="487.0" r="4.15"/>
<circle cx="516.2" cy="489.7" r="4.15"/>
<circle cx="521.6" cy="482.5" r="4.15"/>
<circle cx="522.5" cy="486.1" r="4.15"/>
<circle cx="500.9" cy="494.2" r="4.15"/>
<circle cx="505.4" cy="489.7" r="4.15"/>
<circle cx="508.1" cy="489.7" r="4.15"/>
<circle cx="495.6" cy="498.7" r="4.15"/>
<circle cx="493.8" cy="505.8" r="4.15"/>
<circle cx="493.8" cy="511.2" r="4.15"/>
<circle cx="550.9" cy="510.7" r="4.15"/>
<circle cx="557.2" cy="509.8" r="4.15"/>
<circle cx="556.6" cy="508.6" r="4.15"/>
<circle cx="556.8" cy="509.4" r="4.15"/>
<circle cx="504.5" cy="502.3" r="4.15"/>
<circle cx="504.4" cy="506.9" r="4.15"/>
<circle cx="526.2" cy="503.8" r="4.15"/>
<circle cx="517.0" cy="500.9" r="4.15"/>
<circle cx="517.4" cy="503.4" r="4.15"/>
<circle cx="512.7" cy="501.8" r="4.15"/>
<circle cx="504.8" cy="505.7" r="4.15"/>
<circle cx="511.5" cy="500.9" r="4.15"/>
<circle cx="511.7" cy="500.2" r="4.15"/>
<circle cx="523.8" cy="500.2" r="4.15"/>
<circle cx="508.5" cy="501.6" r="4.15"/>
<circle cx="505.5" cy="508.4" r="4.15"/>
<circle cx="522.6" cy="504.1" r="4.15"/>
<circle cx="502.1" cy="500.2" r="4.15"/>
<circle cx="512.5" cy="498.3" r="4.15"/>
<circle cx="516.1" cy="506.2" r="4.15"/>
<circle cx="517.6" cy="503.4" r="4.15"/>
<circle cx="507.3" cy="501.4" r="4.15"/>
<circle cx="510.1" cy="500.6" r="4.15"/>
<circle cx="512.4" cy="498.6" r="4.15"/>
<circle cx="515.7" cy="504.7" r="4.15"/>
<circle cx="524.2" cy="499.1" r="4.15"/>
<circle cx="511.9" cy="505.4" r="4.15"/>
<circle cx="500.5" cy="502.4" r="4.15"/>
<circle cx="505.0" cy="500.7" r="4.15"/>
<circle cx="522.3" cy="502.8" r="4.15"/>
<circle cx="501.4" cy="503.2" r="4.15"/>
<circle cx="502.8" cy="502.9" r="4.15"/>
<circle cx="516.8" cy="502.1" r="4.15"/>
<circle cx="508.4" cy="505.5" r="4.15"/>
<circle cx="515.2" cy="507.8" r="4.15"/>
<circle cx="502.7" cy="505.6" r="4.15"/>
<circle cx="515.7" cy="492.4" r="4.15"/>
<circle cx="515.5" cy="488.3" r="4.15"/>
<circle cx="520.9" cy="502.1" r="4.15"/>
<circle cx="499.8" cy="504.4" r="4.15"/>
<circle cx="506.2" cy="494.6" r="4.15"/>
<circle cx="514.3" cy="488.0" r="4.15"/>
<circle cx="519.1" cy="488.6" r="4.15"/>
<circle cx="512.1" cy="500.8" r="4.15"/>
<circle cx="503.4" cy="496.3" r="4.15"/>
<circle cx="521.4" cy="504.5" r="4.15"/>
<circle cx="519.4" cy="488.2" r="4.15"/>
<circle cx="519.6" cy="491.3" r="4.15"/>
<circle cx="517.7" cy="502.5" r="4.15"/>
<circle cx="507.6" cy="497.4" r="4.15"/>
<circle cx="521.2" cy="502.7" r="4.15"/>
<circle cx="525.4" cy="489.8" r="4.15"/>
<circle cx="507.2" cy="493.0" r="4.15"/>
<circle cx="570.7" cy="481.4" r="4.15"/>
<circle cx="567.2" cy="494.2" r="4.15"/>
<circle cx="557.5" cy="481.0" r="4.15"/>
<circle cx="557.2" cy="481.3" r="4.15"/>
<circle cx="568.6" cy="473.4" r="4.15"/>
<circle cx="573.2" cy="479.1" r="4.15"/>
<circle cx="558.8" cy="480.0" r="4.15"/>
<circle cx="556.4" cy="474.7" r="4.15"/>
<circle cx="570.9" cy="467.1" r="4.15"/>
<circle cx="563.7" cy="494.7" r="4.15"/>
<circle cx="573.1" cy="479.6" r="4.15"/>
<circle cx="558.3" cy="487.6" r="4.15"/>
<circle cx="567.1" cy="470.2" r="4.15"/>
<circle cx="572.2" cy="478.3" r="4.15"/>
<circle cx="573.6" cy="477.4" r="4.15"/>
<circle cx="566.6" cy="496.2" r="4.15"/>
<circle cx="556.4" cy="495.8" r="4.15"/>
<circle cx="559.3" cy="486.0" r="4.15"/>
<circle cx="569.9" cy="484.2" r="4.15"/>
<circle cx="580.3" cy="492.8" r="4.15"/>
<circle cx="564.2" cy="480.2" r="4.15"/>
<circle cx="565.9" cy="487.8" r="4.15"/>
<circle cx="571.6" cy="470.9" r="4.15"/>
<circle cx="566.6" cy="494.9" r="4.15"/>
<circle cx="570.5" cy="474.3" r="4.15"/>
<circle cx="563.4" cy="478.1" r="4.15"/>
<circle cx="562.9" cy="473.0" r="4.15"/>
<circle cx="564.7" cy="476.3" r="4.15"/>
<circle cx="565.3" cy="486.7" r="4.15"/>
<circle cx="565.7" cy="476.4" r="4.15"/>
<circle cx="578.8" cy="493.0" r="4.15"/>
<circle cx="555.9" cy="473.0" r="4.15"/>
<circle cx="565.8" cy="482.4" r="4.15"/>
<circle cx="568.4" cy="470.1" r="4.15"/>
<circle cx="566.3" cy="477.0" r="4.15"/>
<circle cx="555.3" cy="475.7" r="4.15"/>
<circle cx="557.4" cy="477.6" r="4.15"/>
<circle cx="564.2" cy="470.8" r="4.15"/>
<circle cx="559.9" cy="496.3" r="4.15"/>
<circle cx="572.3" cy="495.0" r="4.15"/>
<circle cx="572.1" cy="491.4" r="4.15"/>
<circle cx="560.6" cy="491.5" r="4.15"/>
<circle cx="574.6" cy="480.8" r="4.15"/>
<circle cx="571.6" cy="485.2" r="4.15"/>
<circle cx="564.0" cy="484.6" r="4.15"/>
<circle cx="578.8" cy="495.8" r="4.15"/>
<circle cx="578.6" cy="478.7" r="4.15"/>
<circle cx="565.2" cy="483.4" r="4.15"/>
<circle cx="558.6" cy="486.0" r="4.15"/>
<circle cx="577.4" cy="485.4" r="4.15"/>
<circle cx="567.7" cy="478.6" r="4.15"/>
<circle cx="567.7" cy="475.6" r="4.15"/>
<circle cx="575.6" cy="481.9" r="4.15"/>
<circle cx="562.2" cy="500.0" r="4.15"/>
<circle cx="568.9" cy="497.4" r="4.15"/>
<circle cx="575.9" cy="485.7" r="4.15"/>
<circle cx="564.2" cy="486.7" r="4.15"/>
<circle cx="571.3" cy="482.3" r="4.15"/>
<circle cx="558.4" cy="473.8" r="4.15"/>
<circle cx="557.5" cy="472.7" r="4.15"/>
<circle cx="562.6" cy="489.9" r="4.15"/>
<circle cx="574.8" cy="476.1" r="4.15"/>
<circle cx="561.1" cy="475.1" r="4.15"/>
<circle cx="570.5" cy="479.4" r="4.15"/>
<circle cx="569.2" cy="491.4" r="4.15"/>
<circle cx="577.8" cy="473.6" r="4.15"/>
<circle cx="576.2" cy="474.1" r="4.15"/>
<circle cx="577.9" cy="485.0" r="4.15"/>
<circle cx="566.4" cy="470.9" r="4.15"/>
<circle cx="572.7" cy="488.7" r="4.15"/>
<circle cx="579.0" cy="488.5" r="4.15"/>
<circle cx="575.1" cy="472.2" r="4.15"/>
<circle cx="585.6" cy="468.5" r="4.15"/>
<circle cx="575.8" cy="499.7" r="4.15"/>
<circle cx="575.2" cy="500.5" r="4.15"/>
<circle cx="557.6" cy="473.3" r="4.15"/>
<circle cx="576.9" cy="465.4" r="4.15"/>
<circle cx="557.3" cy="469.3" r="4.15"/>
<circle cx="565.0" cy="497.5" r="4.15"/>
<circle cx="554.7" cy="496.2" r="4.15"/>
<circle cx="582.3" cy="501.7" r="4.15"/>
<circle cx="587.7" cy="501.8" r="4.15"/>
<circle cx="585.1" cy="471.3" r="4.15"/>
<circle cx="562.6" cy="480.9" r="4.15"/>
<circle cx="576.6" cy="487.7" r="4.15"/>
<circle cx="555.5" cy="490.2" r="4.15"/>
<circle cx="574.0" cy="473.5" r="4.15"/>
<circle cx="564.5" cy="469.7" r="4.15"/>
<circle cx="571.0" cy="483.2" r="4.15"/>
<circle cx="555.6" cy="461.1" r="4.15"/>
<circle cx="555.5" cy="459.9" r="4.15"/>
<circle cx="577.6" cy="470.3" r="4.15"/>
<circle cx="564.2" cy="461.0" r="4.15"/>
<circle cx="580.8" cy="460.5" r="4.15"/>
<circle cx="569.4" cy="470.9" r="4.15"/>
<circle cx="564.5" cy="486.3" r="4.15"/>
<circle cx="588.4" cy="457.5" r="4.15"/>
<circle cx="575.8" cy="500.6" r="4.15"/>
<circle cx="582.0" cy="485.9" r="4.15"/>
<circle cx="565.2" cy="469.3" r="4.15"/>
<circle cx="585.6" cy="487.6" r="4.15"/>
<circle cx="569.1" cy="460.3" r="4.15"/>
<circle cx="582.8" cy="498.4" r="4.15"/>
<circle cx="560.3" cy="478.2" r="4.15"/>
<circle cx="572.6" cy="467.6" r="4.15"/>
<circle cx="573.6" cy="472.2" r="4.15"/>
<circle cx="586.6" cy="499.1" r="4.15"/>
<circle cx="586.5" cy="461.3" r="4.15"/>
<circle cx="566.1" cy="501.0" r="4.15"/>
<circle cx="580.8" cy="461.2" r="4.15"/>
<circle cx="570.4" cy="482.8" r="4.15"/>
<circle cx="563.7" cy="494.2" r="4.15"/>
<circle cx="561.1" cy="473.7" r="4.15"/>
<circle cx="586.8" cy="480.6" r="4.15"/>
<circle cx="583.5" cy="476.5" r="4.15"/>
<circle cx="576.8" cy="473.6" r="4.15"/>
<circle cx="583.0" cy="491.7" r="4.15"/>
<circle cx="587.1" cy="463.5" r="4.15"/>
<circle cx="561.3" cy="470.8" r="4.15"/>
<circle cx="564.6" cy="490.0" r="4.15"/>
<circle cx="583.4" cy="479.9" r="4.15"/>
<circle cx="582.8" cy="480.9" r="4.15"/>
<circle cx="568.8" cy="457.6" r="4.15"/>
<circle cx="563.9" cy="484.6" r="4.15"/>
<circle cx="584.6" cy="455.5" r="4.15"/>
<circle cx="568.3" cy="489.7" r="4.15"/>
<circle cx="561.9" cy="465.5" r="4.15"/>
<circle cx="571.2" cy="481.2" r="4.15"/>
<circle cx="583.3" cy="480.9" r="4.15"/>
<circle cx="586.4" cy="465.1" r="4.15"/>
<circle cx="588.9" cy="481.3" r="4.15"/>
<circle cx="578.7" cy="480.6" r="4.15"/>
<circle cx="574.5" cy="469.2" r="4.15"/>
<circle cx="570.9" cy="473.7" r="4.15"/>
<circle cx="579.3" cy="456.9" r="4.15"/>
<circle cx="575.3" cy="454.5" r="4.15"/>
<circle cx="590.9" cy="462.3" r="4.15"/>
<circle cx="576.9" cy="468.3" r="4.15"/>
<circle cx="576.5" cy="481.4" r="4.15"/>
<circle cx="558.2" cy="463.0" r="4.15"/>
<circle cx="596.0" cy="468.1" r="4.15"/>
<circle cx="584.6" cy="474.2" r="4.15"/>
<circle cx="584.4" cy="468.0" r="4.15"/>
<circle cx="603.5" cy="472.6" r="4.15"/>
<circle cx="584.3" cy="479.3" r="4.15"/>
<circle cx="607.3" cy="469.0" r="4.15"/>
<circle cx="590.7" cy="471.4" r="4.15"/>
<circle cx="600.8" cy="471.1" r="4.15"/>
<circle cx="595.5" cy="466.7" r="4.15"/>
<circle cx="589.5" cy="472.1" r="4.15"/>
<circle cx="589.7" cy="477.8" r="4.15"/>
<circle cx="602.9" cy="492.9" r="4.15"/>
<circle cx="593.0" cy="458.8" r="4.15"/>
<circle cx="610.4" cy="460.9" r="4.15"/>
<circle cx="583.2" cy="468.0" r="4.15"/>
<circle cx="602.6" cy="459.3" r="4.15"/>
<circle cx="607.0" cy="472.2" r="4.15"/>
<circle cx="590.4" cy="492.2" r="4.15"/>
<circle cx="582.4" cy="459.9" r="4.15"/>
<circle cx="597.1" cy="459.9" r="4.15"/>
<circle cx="586.2" cy="463.6" r="4.15"/>
<circle cx="605.9" cy="486.9" r="4.15"/>
<circle cx="589.8" cy="460.0" r="4.15"/>
<circle cx="594.6" cy="458.1" r="4.15"/>
<circle cx="593.8" cy="483.9" r="4.15"/>
<circle cx="592.7" cy="476.2" r="4.15"/>
<circle cx="610.0" cy="489.0" r="4.15"/>
<circle cx="592.6" cy="477.3" r="4.15"/>
<circle cx="594.2" cy="495.5" r="4.15"/>
<circle cx="596.6" cy="491.3" r="4.15"/>
<circle cx="589.8" cy="486.2" r="4.15"/>
<circle cx="612.0" cy="492.2" r="4.15"/>
<circle cx="609.3" cy="494.1" r="4.15"/>
<circle cx="602.7" cy="478.7" r="4.15"/>
<circle cx="600.1" cy="484.1" r="4.15"/>
<circle cx="596.5" cy="488.8" r="4.15"/>
<circle cx="607.2" cy="466.5" r="4.15"/>
<circle cx="591.9" cy="476.9" r="4.15"/>
<circle cx="607.9" cy="470.7" r="4.15"/>
<circle cx="604.4" cy="468.4" r="4.15"/>
<circle cx="604.4" cy="466.8" r="4.15"/>
<circle cx="584.6" cy="453.7" r="4.15"/>
<circle cx="609.0" cy="472.5" r="4.15"/>
<circle cx="582.4" cy="477.9" r="4.15"/>
<circle cx="588.7" cy="474.0" r="4.15"/>
<circle cx="591.4" cy="479.8" r="4.15"/>
<circle cx="603.6" cy="471.1" r="4.15"/>
<circle cx="595.9" cy="478.9" r="4.15"/>
<circle cx="601.2" cy="491.8" r="4.15"/>
<circle cx="581.7" cy="494.7" r="4.15"/>
<circle cx="590.2" cy="470.1" r="4.15"/>
<circle cx="588.4" cy="457.0" r="4.15"/>
<circle cx="594.3" cy="469.6" r="4.15"/>
<circle cx="597.2" cy="492.2" r="4.15"/>
<circle cx="599.7" cy="464.3" r="4.15"/>
<circle cx="588.6" cy="490.1" r="4.15"/>
<circle cx="604.7" cy="484.2" r="4.15"/>
<circle cx="617.0" cy="457.0" r="4.15"/>
<circle cx="605.9" cy="456.6" r="4.15"/>
<circle cx="609.9" cy="497.1" r="4.15"/>
<circle cx="593.1" cy="466.6" r="4.15"/>
<circle cx="594.1" cy="454.4" r="4.15"/>
<circle cx="600.4" cy="465.3" r="4.15"/>
<circle cx="611.6" cy="478.1" r="4.15"/>
<circle cx="615.5" cy="476.8" r="4.15"/>
<circle cx="599.8" cy="492.6" r="4.15"/>
<circle cx="620.8" cy="486.2" r="4.15"/>
<circle cx="606.5" cy="471.7" r="4.15"/>
<circle cx="597.9" cy="497.1" r="4.15"/>
<circle cx="625.2" cy="481.1" r="4.15"/>
<circle cx="597.8" cy="450.8" r="4.15"/>
<circle cx="618.8" cy="490.2" r="4.15"/>
<circle cx="602.9" cy="481.6" r="4.15"/>
<circle cx="614.1" cy="495.1" r="4.15"/>
<circle cx="535.5" cy="427.0" r="4.15"/>
<circle cx="537.8" cy="441.1" r="4.15"/>
<circle cx="525.2" cy="447.4" r="4.15"/>
<circle cx="506.5" cy="451.3" r="4.15"/>
<circle cx="514.3" cy="452.8" r="4.15"/>
<circle cx="517.0" cy="456.4" r="4.15"/>
<circle cx="502.6" cy="456.4" r="4.15"/>
<circle cx="510.7" cy="458.2" r="4.15"/>
<circle cx="534.6" cy="454.6" r="4.15"/>
<circle cx="539.6" cy="458.2" r="4.15"/>
<circle cx="529.7" cy="456.4" r="4.15"/>
<circle cx="532.4" cy="460.9" r="4.15"/>
<circle cx="566.7" cy="446.5" r="4.15"/>
<circle cx="575.4" cy="442.3" r="4.15"/>
<circle cx="589.3" cy="440.2" r="4.15"/>
<circle cx="590.2" cy="444.7" r="4.15"/>
<circle cx="584.8" cy="452.8" r="4.15"/>
<circle cx="591.1" cy="460.0" r="4.15"/>
<circle cx="495.3" cy="466.3" r="4.15"/>
<circle cx="546.8" cy="466.3" r="4.15"/>
<circle cx="534.2" cy="467.2" r="4.15"/>
<circle cx="536.0" cy="470.8" r="4.15"/>
<circle cx="493.5" cy="476.2" r="4.15"/>
<circle cx="491.7" cy="478.0" r="4.15"/>
<circle cx="483.6" cy="482.5" r="4.15"/>
<circle cx="541.4" cy="477.1" r="4.15"/>
<circle cx="495.3" cy="485.2" r="4.15"/>
<circle cx="544.1" cy="488.8" r="4.15"/>
<circle cx="552.3" cy="486.1" r="4.15"/>
<circle cx="553.2" cy="489.7" r="4.15"/>
<circle cx="493.5" cy="495.1" r="4.15"/>
<circle cx="495.3" cy="496.1" r="4.15"/>
<circle cx="544.1" cy="501.4" r="4.15"/>
<circle cx="535.1" cy="499.6" r="4.15"/>
<circle cx="493.5" cy="505.9" r="4.15"/>
<circle cx="492.6" cy="507.7" r="4.15"/>
<circle cx="495.3" cy="505.0" r="4.15"/>
<circle cx="568.5" cy="462.7" r="4.15"/>
<circle cx="567.6" cy="465.4" r="4.15"/>
<circle cx="568.2" cy="463.6" r="4.15"/>
<circle cx="559.5" cy="492.4" r="4.15"/>
<circle cx="562.2" cy="496.1" r="4.15"/>
<circle cx="572.1" cy="496.9" r="4.15"/>
<circle cx="575.7" cy="496.9" r="4.15"/>
<circle cx="586.6" cy="496.1" r="4.15"/>
<circle cx="649.0" cy="405.6" r="4.15"/>
<circle cx="622.8" cy="412.2" r="4.15"/>
<circle cx="621.5" cy="414.6" r="4.15"/>
<circle cx="617.9" cy="417.7" r="4.15"/>
<circle cx="609.6" cy="427.6" r="4.15"/>
<circle cx="607.1" cy="430.6" r="4.15"/>
<circle cx="603.8" cy="433.9" r="4.15"/>
<circle cx="599.3" cy="433.3" r="4.15"/>
<circle cx="594.8" cy="435.7" r="4.15"/>
<circle cx="591.2" cy="437.4" r="4.15"/>
<circle cx="618.3" cy="433.9" r="4.15"/>
<circle cx="625.1" cy="437.4" r="4.15"/>
<circle cx="618.3" cy="441.6" r="4.15"/>
<circle cx="661.3" cy="446.1" r="4.15"/>
<circle cx="637.8" cy="447.8" r="4.15"/>
<circle cx="614.6" cy="449.2" r="4.15"/>
<circle cx="615.5" cy="448.3" r="4.15"/>
<circle cx="645.9" cy="455.9" r="4.15"/>
<circle cx="645.9" cy="460.4" r="4.15"/>
<circle cx="635.1" cy="458.7" r="4.15"/>
<circle cx="630.0" cy="463.6" r="4.15"/>
<circle cx="620.6" cy="460.9" r="4.15"/>
<circle cx="620.6" cy="463.6" r="4.15"/>
<circle cx="620.1" cy="466.3" r="4.15"/>
<circle cx="615.5" cy="467.5" r="4.15"/>
<circle cx="627.3" cy="472.3" r="4.15"/>
<circle cx="644.1" cy="471.7" r="4.15"/>
<circle cx="647.2" cy="474.1" r="4.15"/>
<circle cx="634.5" cy="479.8" r="4.15"/>
<circle cx="642.6" cy="479.4" r="4.15"/>
<circle cx="621.9" cy="488.5" r="4.15"/>
<circle cx="622.8" cy="490.1" r="4.15"/>
<circle cx="623.7" cy="492.4" r="4.15"/>
<circle cx="623.7" cy="496.9" r="4.15"/>
<circle cx="602.9" cy="483.4" r="4.15"/>
<circle cx="602.5" cy="488.8" r="4.15"/>
<circle cx="602.0" cy="489.7" r="4.15"/>
<circle cx="605.6" cy="475.3" r="4.15"/>
<circle cx="604.7" cy="471.7" r="4.15"/>
<circle cx="511.6" cy="488.2" r="4.15"/>
<circle cx="518.4" cy="495.1" r="4.15"/>
<circle cx="514.5" cy="474.3" r="4.15"/>
<circle cx="524.3" cy="489.9" r="4.15"/>
<circle cx="517.9" cy="490.0" r="4.15"/>
<circle cx="508.9" cy="484.0" r="4.15"/>
<circle cx="517.0" cy="497.0" r="4.15"/>
<circle cx="513.9" cy="490.4" r="4.15"/>
<circle cx="523.5" cy="493.9" r="4.15"/>
<circle cx="523.8" cy="496.2" r="4.15"/>
<circle cx="506.8" cy="495.2" r="4.15"/>
<circle cx="519.1" cy="482.0" r="4.15"/>
<circle cx="519.1" cy="491.1" r="4.15"/>
<circle cx="512.5" cy="485.9" r="4.15"/>
<circle cx="513.8" cy="489.2" r="4.15"/>
<circle cx="512.7" cy="492.3" r="4.15"/>
<circle cx="503.4" cy="484.3" r="4.15"/>
<circle cx="504.9" cy="482.4" r="4.15"/>
<circle cx="518.6" cy="487.2" r="4.15"/>
<circle cx="514.7" cy="487.7" r="4.15"/>
<circle cx="525.2" cy="476.3" r="4.15"/>
<circle cx="520.9" cy="472.4" r="4.15"/>
<circle cx="512.5" cy="488.6" r="4.15"/>
<circle cx="510.1" cy="489.0" r="4.15"/>
<circle cx="519.9" cy="475.5" r="4.15"/>
<circle cx="514.9" cy="483.4" r="4.15"/>
<circle cx="503.3" cy="485.2" r="4.15"/>
<circle cx="510.4" cy="500.0" r="4.15"/>
<circle cx="509.9" cy="503.4" r="4.15"/>
<circle cx="512.1" cy="505.7" r="4.15"/>
<circle cx="518.8" cy="491.4" r="4.15"/>
<circle cx="520.4" cy="495.7" r="4.15"/>
<circle cx="513.2" cy="474.9" r="4.15"/>
<circle cx="520.1" cy="490.7" r="4.15"/>
<circle cx="516.1" cy="483.6" r="4.15"/>
<circle cx="511.4" cy="484.3" r="4.15"/>
<circle cx="517.8" cy="470.0" r="4.15"/>
<circle cx="519.9" cy="472.9" r="4.15"/>
<circle cx="514.4" cy="480.9" r="4.15"/>
<circle cx="513.1" cy="476.9" r="4.15"/>
<circle cx="508.2" cy="484.8" r="4.15"/>
<circle cx="512.8" cy="480.6" r="4.15"/>
<circle cx="511.9" cy="476.6" r="4.15"/>
<circle cx="517.3" cy="472.4" r="4.15"/>
<circle cx="515.4" cy="475.3" r="4.15"/>
<circle cx="515.1" cy="490.4" r="4.15"/>
<circle cx="518.4" cy="491.1" r="4.15"/>
<circle cx="511.0" cy="495.4" r="4.15"/>
<circle cx="512.6" cy="490.3" r="4.15"/>
<circle cx="519.7" cy="484.0" r="4.15"/>
<circle cx="507.3" cy="492.9" r="4.15"/>
<circle cx="508.4" cy="478.3" r="4.15"/>
<circle cx="508.5" cy="495.1" r="4.15"/>
<circle cx="519.9" cy="507.0" r="4.15"/>
<circle cx="526.6" cy="481.4" r="4.15"/>
<circle cx="515.8" cy="491.8" r="4.15"/>
<circle cx="520.9" cy="487.3" r="4.15"/>
<circle cx="508.5" cy="494.2" r="4.15"/>
<circle cx="519.2" cy="474.1" r="4.15"/>
<circle cx="513.0" cy="489.5" r="4.15"/>
<circle cx="515.3" cy="492.0" r="4.15"/>
<circle cx="520.3" cy="492.2" r="4.15"/>
<circle cx="514.6" cy="473.9" r="4.15"/>
<circle cx="519.2" cy="500.5" r="4.15"/>
<circle cx="527.7" cy="486.6" r="4.15"/>
<circle cx="515.1" cy="500.9" r="4.15"/>
<circle cx="524.3" cy="490.2" r="4.15"/>
<circle cx="519.8" cy="479.5" r="4.15"/>
<circle cx="519.0" cy="478.9" r="4.15"/>
<circle cx="514.4" cy="485.7" r="4.15"/>
<circle cx="512.4" cy="466.5" r="4.15"/>
<circle cx="510.2" cy="490.1" r="4.15"/>
<circle cx="514.9" cy="483.1" r="4.15"/>
<circle cx="518.0" cy="493.5" r="4.15"/>
<circle cx="520.6" cy="479.1" r="4.15"/>
<circle cx="515.4" cy="483.6" r="4.15"/>
<circle cx="509.8" cy="472.4" r="4.15"/>
<circle cx="514.7" cy="478.4" r="4.15"/>
<circle cx="528.7" cy="485.9" r="4.15"/>
<circle cx="513.9" cy="483.0" r="4.15"/>
<circle cx="527.0" cy="477.7" r="4.15"/>
<circle cx="514.3" cy="479.4" r="4.15"/>
<circle cx="514.5" cy="486.5" r="4.15"/>
<circle cx="522.2" cy="473.2" r="4.15"/>
<circle cx="515.2" cy="502.5" r="4.15"/>
<circle cx="512.1" cy="485.1" r="4.15"/>
<circle cx="514.6" cy="498.2" r="4.15"/>
<circle cx="512.4" cy="469.0" r="4.15"/>
<circle cx="517.0" cy="487.6" r="4.15"/>
<circle cx="521.5" cy="495.6" r="4.15"/>
<circle cx="513.6" cy="490.7" r="4.15"/>
<circle cx="504.1" cy="497.6" r="4.15"/>
<circle cx="516.5" cy="497.3" r="4.15"/>
<circle cx="521.9" cy="484.1" r="4.15"/>
<circle cx="514.4" cy="478.4" r="4.15"/>
<circle cx="502.4" cy="485.6" r="4.15"/>
<circle cx="516.3" cy="476.4" r="4.15"/>
<circle cx="519.7" cy="487.8" r="4.15"/>
<circle cx="518.1" cy="479.4" r="4.15"/>
<circle cx="504.3" cy="494.4" r="4.15"/>
<circle cx="519.1" cy="485.8" r="4.15"/>
<circle cx="512.7" cy="484.2" r="4.15"/>
<circle cx="514.4" cy="482.0" r="4.15"/>
<circle cx="502.7" cy="494.5" r="4.15"/>
<circle cx="506.0" cy="483.6" r="4.15"/>
<circle cx="513.4" cy="489.4" r="4.15"/>
<circle cx="505.2" cy="498.5" r="4.15"/>
<circle cx="519.4" cy="494.3" r="4.15"/>
<circle cx="523.2" cy="479.2" r="4.15"/>
<circle cx="523.5" cy="498.2" r="4.15"/>
<circle cx="512.0" cy="486.1" r="4.15"/>
<circle cx="517.1" cy="469.5" r="4.15"/>
<circle cx="511.2" cy="480.8" r="4.15"/>
<circle cx="525.2" cy="480.7" r="4.15"/>
<circle cx="525.2" cy="487.1" r="4.15"/>
<circle cx="509.3" cy="493.0" r="4.15"/>
<circle cx="526.0" cy="481.9" r="4.15"/>
<circle cx="507.7" cy="497.1" r="4.15"/>
<circle cx="515.8" cy="475.2" r="4.15"/>
<circle cx="508.6" cy="483.2" r="4.15"/>
<circle cx="521.4" cy="484.3" r="4.15"/>
<circle cx="519.5" cy="503.0" r="4.15"/>
<circle cx="523.3" cy="500.9" r="4.15"/>
<circle cx="523.1" cy="471.5" r="4.15"/>
<circle cx="523.0" cy="490.2" r="4.15"/>
<circle cx="514.6" cy="476.5" r="4.15"/>
<circle cx="505.5" cy="476.3" r="4.15"/>
<circle cx="515.3" cy="475.6" r="4.15"/>
<circle cx="510.3" cy="481.1" r="4.15"/>
<circle cx="519.6" cy="484.2" r="4.15"/>
<circle cx="514.5" cy="499.8" r="4.15"/>
<circle cx="513.4" cy="492.8" r="4.15"/>
<circle cx="508.8" cy="490.2" r="4.15"/>
<circle cx="516.1" cy="488.7" r="4.15"/>
<circle cx="512.5" cy="477.1" r="4.15"/>
<circle cx="513.5" cy="482.5" r="4.15"/>
<circle cx="521.8" cy="495.8" r="4.15"/>
<circle cx="507.9" cy="493.1" r="4.15"/>
<circle cx="512.4" cy="491.4" r="4.15"/>
<circle cx="512.4" cy="472.8" r="4.15"/>
<circle cx="521.7" cy="491.4" r="4.15"/>
<circle cx="512.1" cy="475.6" r="4.15"/>
<circle cx="513.1" cy="493.0" r="4.15"/>
<circle cx="524.6" cy="483.6" r="4.15"/>
<circle cx="524.0" cy="498.3" r="4.15"/>
<circle cx="512.7" cy="470.9" r="4.15"/>
<circle cx="520.7" cy="492.9" r="4.15"/>
<circle cx="520.3" cy="503.4" r="4.15"/>
<circle cx="508.9" cy="488.9" r="4.15"/>
<circle cx="513.7" cy="503.9" r="4.15"/>
<circle cx="524.0" cy="478.3" r="4.15"/>
<circle cx="520.3" cy="482.5" r="4.15"/>
<circle cx="517.0" cy="493.3" r="4.15"/>
<circle cx="516.7" cy="477.9" r="4.15"/>
<circle cx="524.2" cy="491.0" r="4.15"/>
<circle cx="515.4" cy="494.0" r="4.15"/>
<circle cx="512.1" cy="505.4" r="4.15"/>
<circle cx="516.9" cy="490.7" r="4.15"/>
<circle cx="517.7" cy="478.4" r="4.15"/>
<circle cx="508.2" cy="489.3" r="4.15"/>
<circle cx="517.7" cy="500.2" r="4.15"/>
<circle cx="518.3" cy="476.7" r="4.15"/>
<circle cx="518.8" cy="495.2" r="4.15"/>
<circle cx="521.8" cy="490.4" r="4.15"/>
<circle cx="507.9" cy="498.4" r="4.15"/>
<circle cx="511.0" cy="492.8" r="4.15"/>
<circle cx="505.7" cy="494.6" r="4.15"/>
<circle cx="510.6" cy="497.7" r="4.15"/>
<circle cx="526.5" cy="498.5" r="4.15"/>
<circle cx="508.2" cy="478.1" r="4.15"/>
<circle cx="510.1" cy="493.6" r="4.15"/>
<circle cx="517.7" cy="488.7" r="4.15"/>
<circle cx="517.4" cy="492.8" r="4.15"/>
<circle cx="519.6" cy="503.5" r="4.15"/>
<circle cx="515.1" cy="489.1" r="4.15"/>
<circle cx="511.2" cy="475.7" r="4.15"/>
<circle cx="516.9" cy="497.2" r="4.15"/>
<circle cx="512.7" cy="482.4" r="4.15"/>
<circle cx="512.3" cy="488.4" r="4.15"/>
<circle cx="512.0" cy="491.2" r="4.15"/>
<circle cx="517.3" cy="490.4" r="4.15"/>
<circle cx="520.2" cy="487.4" r="4.15"/>
<circle cx="516.3" cy="504.1" r="4.15"/>
<circle cx="515.1" cy="494.8" r="4.15"/>
<circle cx="515.7" cy="482.6" r="4.15"/>
<circle cx="512.6" cy="479.1" r="4.15"/>
<circle cx="515.5" cy="481.2" r="4.15"/>
<circle cx="512.8" cy="498.8" r="4.15"/>
<circle cx="514.6" cy="498.1" r="4.15"/>
<circle cx="517.0" cy="495.3" r="4.15"/>
<circle cx="511.6" cy="488.4" r="4.15"/>
<circle cx="521.6" cy="489.2" r="4.15"/>
<circle cx="520.7" cy="475.7" r="4.15"/>
<circle cx="510.1" cy="491.1" r="4.15"/>
<circle cx="520.5" cy="483.0" r="4.15"/>
<circle cx="514.2" cy="483.4" r="4.15"/>
<circle cx="514.2" cy="475.3" r="4.15"/>
<circle cx="506.4" cy="486.2" r="4.15"/>
<circle cx="504.5" cy="477.4" r="4.15"/>
<circle cx="511.2" cy="476.7" r="4.15"/>
<circle cx="516.8" cy="482.6" r="4.15"/>
<circle cx="514.8" cy="477.1" r="4.15"/>
<circle cx="510.7" cy="491.8" r="4.15"/>
<circle cx="517.5" cy="482.3" r="4.15"/>
<circle cx="517.5" cy="488.6" r="4.15"/>
<circle cx="516.2" cy="502.2" r="4.15"/>
<circle cx="512.7" cy="490.8" r="4.15"/>
<circle cx="517.9" cy="484.5" r="4.15"/>
<circle cx="507.9" cy="493.4" r="4.15"/>
<circle cx="516.8" cy="487.2" r="4.15"/>
<circle cx="515.3" cy="486.9" r="4.15"/>
<circle cx="509.6" cy="489.5" r="4.15"/>
<circle cx="503.9" cy="486.4" r="4.15"/>
<circle cx="505.8" cy="483.2" r="4.15"/>
<circle cx="519.6" cy="484.1" r="4.15"/>
<circle cx="512.1" cy="491.5" r="4.15"/>
<circle cx="513.4" cy="482.6" r="4.15"/>
<circle cx="512.6" cy="501.1" r="4.15"/>
<circle cx="519.2" cy="491.2" r="4.15"/>
<circle cx="507.6" cy="492.5" r="4.15"/>
<circle cx="507.0" cy="491.1" r="4.15"/>
<circle cx="504.5" cy="498.3" r="4.15"/>
<circle cx="520.0" cy="469.3" r="4.15"/>
<circle cx="513.5" cy="500.4" r="4.15"/>
<circle cx="522.1" cy="470.4" r="4.15"/>
<circle cx="511.8" cy="475.1" r="4.15"/>
<circle cx="508.6" cy="480.2" r="4.15"/>
<circle cx="526.5" cy="487.7" r="4.15"/>
<circle cx="513.6" cy="483.2" r="4.15"/>
<circle cx="519.2" cy="493.1" r="4.15"/>
<circle cx="509.3" cy="500.6" r="4.15"/>
<circle cx="508.2" cy="483.7" r="4.15"/>
<circle cx="517.8" cy="502.9" r="4.15"/>
<circle cx="512.8" cy="489.2" r="4.15"/>
<circle cx="523.1" cy="492.4" r="4.15"/>
<circle cx="522.0" cy="496.4" r="4.15"/>
<circle cx="516.6" cy="492.5" r="4.15"/>
<circle cx="520.7" cy="486.1" r="4.15"/>
<circle cx="509.2" cy="500.4" r="4.15"/>
<circle cx="517.7" cy="480.2" r="4.15"/>
<circle cx="517.4" cy="496.9" r="4.15"/>
<circle cx="511.5" cy="493.8" r="4.15"/>
<circle cx="514.2" cy="485.3" r="4.15"/>
<circle cx="514.6" cy="497.1" r="4.15"/>
<circle cx="508.0" cy="482.9" r="4.15"/>
<circle cx="519.1" cy="474.6" r="4.15"/>
<circle cx="505.1" cy="491.9" r="4.15"/>
<circle cx="515.0" cy="485.0" r="4.15"/>
<circle cx="515.9" cy="477.0" r="4.15"/>
<circle cx="512.3" cy="472.7" r="4.15"/>
<circle cx="512.4" cy="501.2" r="4.15"/>
<circle cx="515.1" cy="492.2" r="4.15"/>
<circle cx="512.0" cy="504.0" r="4.15"/>
<circle cx="516.0" cy="474.4" r="4.15"/>
<circle cx="519.8" cy="482.8" r="4.15"/>
<circle cx="518.8" cy="487.7" r="4.15"/>
<circle cx="516.6" cy="487.7" r="4.15"/>
<circle cx="509.4" cy="471.9" r="4.15"/>
<circle cx="521.1" cy="485.1" r="4.15"/>
<circle cx="516.8" cy="481.9" r="4.15"/>
<circle cx="523.7" cy="478.8" r="4.15"/>
<circle cx="512.6" cy="472.2" r="4.15"/>
<circle cx="511.7" cy="482.8" r="4.15"/>
<circle cx="513.6" cy="485.7" r="4.15"/>
<circle cx="511.0" cy="480.8" r="4.15"/>
<circle cx="514.9" cy="489.5" r="4.15"/>
<circle cx="514.1" cy="503.2" r="4.15"/>
<circle cx="516.3" cy="488.0" r="4.15"/>
<circle cx="510.9" cy="496.3" r="4.15"/>
<circle cx="508.6" cy="470.7" r="4.15"/>
<circle cx="508.9" cy="492.4" r="4.15"/>
<circle cx="507.8" cy="498.9" r="4.15"/>
<circle cx="514.8" cy="471.7" r="4.15"/>
<circle cx="513.5" cy="503.6" r="4.15"/>
<circle cx="509.6" cy="473.7" r="4.15"/>
<circle cx="518.2" cy="499.0" r="4.15"/>
<circle cx="521.3" cy="483.2" r="4.15"/>
<circle cx="516.1" cy="489.5" r="4.15"/>
<circle cx="514.3" cy="498.9" r="4.15"/>
<circle cx="512.8" cy="492.0" r="4.15"/>
<circle cx="509.1" cy="478.9" r="4.15"/>
<circle cx="517.5" cy="477.6" r="4.15"/>
<circle cx="520.5" cy="481.0" r="4.15"/>
<circle cx="515.4" cy="485.5" r="4.15"/>
<circle cx="512.9" cy="487.6" r="4.15"/>
<circle cx="507.5" cy="489.2" r="4.15"/>
<circle cx="513.9" cy="477.5" r="4.15"/>
<circle cx="516.7" cy="477.9" r="4.15"/>
<circle cx="514.5" cy="498.3" r="4.15"/>
<circle cx="502.3" cy="488.7" r="4.15"/>
<circle cx="517.7" cy="477.1" r="4.15"/>
<circle cx="518.2" cy="489.7" r="4.15"/>
<circle cx="512.8" cy="498.1" r="4.15"/>
<circle cx="506.8" cy="492.6" r="4.15"/>
<circle cx="513.5" cy="476.1" r="4.15"/>
<circle cx="513.8" cy="483.0" r="4.15"/>
<circle cx="520.1" cy="471.9" r="4.15"/>
<circle cx="513.7" cy="481.9" r="4.15"/>
<circle cx="524.8" cy="475.5" r="4.15"/>
<circle cx="521.6" cy="469.3" r="4.15"/>
<circle cx="517.1" cy="485.0" r="4.15"/>
<circle cx="517.3" cy="479.5" r="4.15"/>
<circle cx="523.1" cy="488.3" r="4.15"/>
<circle cx="509.5" cy="494.9" r="4.15"/>
<circle cx="510.2" cy="479.1" r="4.15"/>
<circle cx="507.3" cy="497.6" r="4.15"/>
<circle cx="527.1" cy="476.9" r="4.15"/>
<circle cx="516.7" cy="495.6" r="4.15"/>
<circle cx="515.7" cy="492.4" r="4.15"/>
<circle cx="505.6" cy="490.1" r="4.15"/>
<circle cx="516.1" cy="493.1" r="4.15"/>
<circle cx="511.2" cy="490.2" r="4.15"/>
<circle cx="511.0" cy="492.0" r="4.15"/>
<circle cx="515.8" cy="482.5" r="4.15"/>
<circle cx="506.0" cy="502.1" r="4.15"/>
<circle cx="521.7" cy="494.6" r="4.15"/>
<circle cx="510.7" cy="482.7" r="4.15"/>
<circle cx="525.2" cy="493.3" r="4.15"/>
<circle cx="509.5" cy="486.6" r="4.15"/>
<circle cx="515.7" cy="484.2" r="4.15"/>
<circle cx="508.9" cy="498.3" r="4.15"/>
<circle cx="518.5" cy="484.2" r="4.15"/>
<circle cx="505.0" cy="480.5" r="4.15"/>
<circle cx="514.8" cy="494.6" r="4.15"/>
<circle cx="512.5" cy="496.9" r="4.15"/>
<circle cx="515.7" cy="479.0" r="4.15"/>
<circle cx="505.6" cy="484.8" r="4.15"/>
<circle cx="517.0" cy="499.7" r="4.15"/>
<circle cx="514.8" cy="475.1" r="4.15"/>
<circle cx="513.3" cy="483.7" r="4.15"/>
<circle cx="506.5" cy="492.5" r="4.15"/>
<circle cx="517.3" cy="501.7" r="4.15"/>
<circle cx="521.8" cy="494.7" r="4.15"/>
<circle cx="522.8" cy="483.6" r="4.15"/>
<circle cx="512.2" cy="485.9" r="4.15"/>
<circle cx="507.2" cy="485.0" r="4.15"/>
<circle cx="512.9" cy="492.9" r="4.15"/>
<circle cx="514.9" cy="468.0" r="4.15"/>
<circle cx="515.2" cy="500.2" r="4.15"/>
<circle cx="503.6" cy="479.1" r="4.15"/>
<circle cx="515.1" cy="473.6" r="4.15"/>
<circle cx="511.6" cy="487.0" r="4.15"/>
<circle cx="506.8" cy="489.3" r="4.15"/>
<circle cx="517.6" cy="474.3" r="4.15"/>
<circle cx="515.3" cy="497.0" r="4.15"/>
<circle cx="514.0" cy="490.8" r="4.15"/>
<circle cx="519.1" cy="484.3" r="4.15"/>
<circle cx="521.2" cy="490.3" r="4.15"/>
<circle cx="508.9" cy="491.6" r="4.15"/>
<circle cx="520.5" cy="494.4" r="4.15"/>
<circle cx="511.1" cy="491.1" r="4.15"/>
<circle cx="523.7" cy="488.9" r="4.15"/>
<circle cx="522.6" cy="499.3" r="4.15"/>
<circle cx="515.0" cy="493.1" r="4.15"/>
<circle cx="513.4" cy="497.1" r="4.15"/>
<circle cx="514.7" cy="481.4" r="4.15"/>
<circle cx="515.1" cy="486.1" r="4.15"/>
<circle cx="517.6" cy="491.3" r="4.15"/>
<circle cx="508.0" cy="480.5" r="4.15"/>
<circle cx="517.5" cy="491.4" r="4.15"/>
<circle cx="522.3" cy="486.1" r="4.15"/>
<circle cx="519.8" cy="499.8" r="4.15"/>
<circle cx="517.6" cy="470.1" r="4.15"/>
<circle cx="515.9" cy="487.4" r="4.15"/>
<circle cx="525.0" cy="485.5" r="4.15"/>
<circle cx="521.2" cy="484.2" r="4.15"/>
<circle cx="516.5" cy="498.0" r="4.15"/>
<circle cx="515.9" cy="497.2" r="4.15"/>
<circle cx="514.9" cy="483.1" r="4.15"/>
<circle cx="514.1" cy="482.2" r="4.15"/>
<circle cx="514.7" cy="500.3" r="4.15"/>
<circle cx="508.2" cy="471.1" r="4.15"/>
<circle cx="515.4" cy="503.4" r="4.15"/>
<circle cx="522.0" cy="500.0" r="4.15"/>
<circle cx="523.3" cy="480.1" r="4.15"/>
<circle cx="511.7" cy="493.1" r="4.15"/>
<circle cx="507.4" cy="489.3" r="4.15"/>
<circle cx="524.5" cy="472.7" r="4.15"/>
<circle cx="522.2" cy="471.7" r="4.15"/>
<circle cx="512.4" cy="483.1" r="4.15"/>
<circle cx="515.9" cy="485.7" r="4.15"/>
<circle cx="518.9" cy="497.7" r="4.15"/>
<circle cx="516.2" cy="494.8" r="4.15"/>
<circle cx="509.2" cy="492.5" r="4.15"/>
<circle cx="527.3" cy="489.2" r="4.15"/>
<circle cx="522.6" cy="484.7" r="4.15"/>
<circle cx="521.5" cy="481.6" r="4.15"/>
<circle cx="520.1" cy="491.5" r="4.15"/>
<circle cx="518.3" cy="501.1" r="4.15"/>
<circle cx="522.6" cy="482.1" r="4.15"/>
<circle cx="521.5" cy="471.4" r="4.15"/>
<circle cx="519.3" cy="492.9" r="4.15"/>
<circle cx="516.4" cy="496.1" r="4.15"/>
<circle cx="513.2" cy="494.6" r="4.15"/>
<circle cx="514.4" cy="484.0" r="4.15"/>
<circle cx="516.9" cy="487.6" r="4.15"/>
<circle cx="517.0" cy="471.8" r="4.15"/>
<circle cx="522.9" cy="488.0" r="4.15"/>
<circle cx="517.4" cy="495.1" r="4.15"/>
<circle cx="515.6" cy="490.6" r="4.15"/>
<circle cx="517.6" cy="483.9" r="4.15"/>
<circle cx="526.9" cy="475.8" r="4.15"/>
<circle cx="524.9" cy="469.6" r="4.15"/>
<circle cx="508.6" cy="503.7" r="4.15"/>
<circle cx="506.1" cy="479.9" r="4.15"/>
<circle cx="517.0" cy="494.6" r="4.15"/>
<circle cx="510.6" cy="491.6" r="4.15"/>
<circle cx="507.0" cy="493.1" r="4.15"/>
<circle cx="526.0" cy="482.6" r="4.15"/>
<circle cx="505.7" cy="497.4" r="4.15"/>
<circle cx="501.7" cy="482.5" r="4.15"/>
<circle cx="518.6" cy="493.5" r="4.15"/>
<circle cx="519.6" cy="474.7" r="4.15"/>
<circle cx="504.8" cy="476.5" r="4.15"/>
<circle cx="515.9" cy="469.0" r="4.15"/>
<circle cx="509.7" cy="503.0" r="4.15"/>
<circle cx="514.3" cy="466.1" r="4.15"/>
<circle cx="523.0" cy="477.3" r="4.15"/>
<circle cx="517.6" cy="479.1" r="4.15"/>
<circle cx="503.1" cy="495.8" r="4.15"/>
<circle cx="519.5" cy="508.1" r="4.15"/>
<circle cx="514.3" cy="481.1" r="4.15"/>
<circle cx="525.1" cy="471.8" r="4.15"/>
<circle cx="513.4" cy="466.5" r="4.15"/>
<circle cx="519.4" cy="481.3" r="4.15"/>
<circle cx="513.2" cy="485.9" r="4.15"/>
<circle cx="502.3" cy="490.1" r="4.15"/>
<circle cx="528.5" cy="476.2" r="4.15"/>
<circle cx="526.5" cy="485.9" r="4.15"/>
<circle cx="503.9" cy="468.2" r="4.15"/>
<circle cx="529.1" cy="493.0" r="4.15"/>
<circle cx="524.1" cy="466.8" r="4.15"/>
<circle cx="511.7" cy="471.4" r="4.15"/>
<circle cx="533.0" cy="490.7" r="4.15"/>
<circle cx="519.0" cy="480.2" r="4.15"/>
<circle cx="538.3" cy="478.2" r="4.15"/>
<circle cx="535.5" cy="464.0" r="4.15"/>
<circle cx="540.5" cy="473.8" r="4.15"/>
<circle cx="533.5" cy="487.9" r="4.15"/>
<circle cx="529.9" cy="464.2" r="4.15"/>
<circle cx="539.2" cy="487.5" r="4.15"/>
<circle cx="532.0" cy="463.7" r="4.15"/>
<circle cx="540.7" cy="495.2" r="4.15"/>
<circle cx="534.6" cy="471.8" r="4.15"/>
<circle cx="535.2" cy="497.8" r="4.15"/>
<circle cx="534.6" cy="493.4" r="4.15"/>
<circle cx="531.2" cy="478.8" r="4.15"/>
<circle cx="541.3" cy="484.1" r="4.15"/>
<circle cx="535.0" cy="475.6" r="4.15"/>
<circle cx="533.6" cy="472.2" r="4.15"/>
<circle cx="543.1" cy="478.0" r="4.15"/>
<circle cx="541.1" cy="489.9" r="4.15"/>
<circle cx="534.8" cy="481.1" r="4.15"/>
<circle cx="537.9" cy="495.9" r="4.15"/>
<circle cx="535.6" cy="480.9" r="4.15"/>
<circle cx="540.5" cy="481.8" r="4.15"/>
<circle cx="535.0" cy="493.3" r="4.15"/>
<circle cx="570.9" cy="484.9" r="4.15"/>
<circle cx="569.7" cy="479.5" r="4.15"/>
<circle cx="566.6" cy="491.6" r="4.15"/>
<circle cx="559.5" cy="485.9" r="4.15"/>
<circle cx="569.0" cy="496.4" r="4.15"/>
<circle cx="573.6" cy="474.6" r="4.15"/>
<circle cx="562.1" cy="469.9" r="4.15"/>
<circle cx="570.3" cy="478.8" r="4.15"/>
<circle cx="567.4" cy="484.4" r="4.15"/>
<circle cx="569.0" cy="486.7" r="4.15"/>
<circle cx="567.8" cy="468.3" r="4.15"/>
<circle cx="572.3" cy="476.8" r="4.15"/>
<circle cx="566.4" cy="477.5" r="4.15"/>
<circle cx="565.7" cy="481.8" r="4.15"/>
<circle cx="566.1" cy="472.5" r="4.15"/>
<circle cx="570.7" cy="477.0" r="4.15"/>
<circle cx="572.7" cy="480.6" r="4.15"/>
<circle cx="564.3" cy="485.7" r="4.15"/>
<circle cx="570.9" cy="474.0" r="4.15"/>
<circle cx="566.1" cy="494.2" r="4.15"/>
<circle cx="563.1" cy="474.6" r="4.15"/>
<circle cx="567.9" cy="471.5" r="4.15"/>
<circle cx="568.8" cy="487.5" r="4.15"/>
<circle cx="569.7" cy="485.3" r="4.15"/>
<circle cx="562.2" cy="487.7" r="4.15"/>
<circle cx="572.0" cy="476.0" r="4.15"/>
<circle cx="571.1" cy="478.8" r="4.15"/>
<circle cx="568.0" cy="485.1" r="4.15"/>
<circle cx="561.1" cy="494.6" r="4.15"/>
<circle cx="563.7" cy="481.1" r="4.15"/>
<circle cx="565.2" cy="485.9" r="4.15"/>
<circle cx="569.0" cy="482.2" r="4.15"/>
<circle cx="573.0" cy="484.4" r="4.15"/>
<circle cx="566.1" cy="479.5" r="4.15"/>
<circle cx="563.7" cy="474.6" r="4.15"/>
<circle cx="569.7" cy="491.0" r="4.15"/>
<circle cx="564.3" cy="484.2" r="4.15"/>
<circle cx="561.6" cy="488.3" r="4.15"/>
<circle cx="568.7" cy="476.7" r="4.15"/>
<circle cx="566.8" cy="479.8" r="4.15"/>
<circle cx="564.6" cy="493.3" r="4.15"/>
<circle cx="571.6" cy="483.3" r="4.15"/>
<circle cx="565.7" cy="485.4" r="4.15"/>
<circle cx="566.8" cy="487.1" r="4.15"/>
<circle cx="567.0" cy="487.1" r="4.15"/>
<circle cx="562.0" cy="481.1" r="4.15"/>
<circle cx="572.9" cy="473.1" r="4.15"/>
<circle cx="564.5" cy="493.8" r="4.15"/>
<circle cx="568.9" cy="491.2" r="4.15"/>
<circle cx="562.0" cy="470.0" r="4.15"/>
<circle cx="568.9" cy="492.2" r="4.15"/>
<circle cx="561.1" cy="472.4" r="4.15"/>
<circle cx="564.8" cy="480.9" r="4.15"/>
<circle cx="569.6" cy="478.8" r="4.15"/>
<circle cx="568.6" cy="492.8" r="4.15"/>
<circle cx="562.3" cy="476.8" r="4.15"/>
<circle cx="572.8" cy="475.9" r="4.15"/>
<circle cx="565.4" cy="470.3" r="4.15"/>
<circle cx="585.4" cy="458.0" r="4.15"/>
<circle cx="591.2" cy="463.0" r="4.15"/>
<circle cx="582.7" cy="465.3" r="4.15"/>
<circle cx="583.4" cy="492.7" r="4.15"/>
<circle cx="587.7" cy="481.9" r="4.15"/>
<circle cx="588.2" cy="476.6" r="4.15"/>
<circle cx="579.0" cy="469.5" r="4.15"/>
<circle cx="586.8" cy="486.4" r="4.15"/>
<circle cx="588.9" cy="477.0" r="4.15"/>
<circle cx="585.2" cy="460.3" r="4.15"/>
<circle cx="590.1" cy="488.4" r="4.15"/>
<circle cx="589.2" cy="453.6" r="4.15"/>
<circle cx="588.9" cy="483.5" r="4.15"/>
<circle cx="581.6" cy="475.8" r="4.15"/>
<circle cx="580.9" cy="482.8" r="4.15"/>
<circle cx="581.9" cy="486.4" r="4.15"/>
<circle cx="589.2" cy="470.7" r="4.15"/>
<circle cx="585.6" cy="467.5" r="4.15"/>
<circle cx="591.6" cy="473.4" r="4.15"/>
<circle cx="589.4" cy="458.9" r="4.15"/>
<circle cx="588.9" cy="463.0" r="4.15"/>
<circle cx="589.4" cy="469.9" r="4.15"/>
<circle cx="584.3" cy="481.6" r="4.15"/>
<circle cx="581.5" cy="493.2" r="4.15"/>
<circle cx="597.3" cy="480.3" r="4.15"/>
<circle cx="592.1" cy="472.8" r="4.15"/>
<circle cx="589.7" cy="473.1" r="4.15"/>
<circle cx="595.8" cy="472.7" r="4.15"/>
<circle cx="596.6" cy="447.6" r="4.15"/>
<circle cx="589.6" cy="466.7" r="4.15"/>
<circle cx="589.2" cy="475.2" r="4.15"/>
<circle cx="586.4" cy="490.6" r="4.15"/>
<circle cx="590.0" cy="483.5" r="4.15"/>
<circle cx="605.5" cy="484.9" r="4.15"/>
<circle cx="611.2" cy="454.8" r="4.15"/>
<circle cx="588.8" cy="478.8" r="4.15"/>
<circle cx="594.9" cy="485.5" r="4.15"/>
<circle cx="597.8" cy="484.0" r="4.15"/>
<circle cx="605.9" cy="480.2" r="4.15"/>
<circle cx="601.7" cy="460.3" r="4.15"/>
<circle cx="594.9" cy="441.6" r="4.15"/>
<circle cx="594.1" cy="448.9" r="4.15"/>
<circle cx="605.0" cy="445.5" r="4.15"/>
<circle cx="591.3" cy="487.9" r="4.15"/>
<circle cx="597.0" cy="442.9" r="4.15"/>
<circle cx="604.5" cy="466.1" r="4.15"/>
<circle cx="607.5" cy="456.6" r="4.15"/>
<circle cx="608.1" cy="462.0" r="4.15"/>
<circle cx="607.5" cy="463.2" r="4.15"/>
<circle cx="609.0" cy="456.9" r="4.15"/>
<circle cx="608.5" cy="462.5" r="4.15"/>
<circle cx="607.1" cy="460.4" r="4.15"/>
<circle cx="608.9" cy="456.4" r="4.15"/>
<circle cx="606.8" cy="457.3" r="4.15"/>
<circle cx="607.3" cy="461.3" r="4.15"/>
<circle cx="604.3" cy="459.5" r="4.15"/>
<circle cx="608.1" cy="368.0" r="4.15"/>
<circle cx="601.6" cy="397.8" r="4.15"/>
<circle cx="609.7" cy="398.3" r="4.15"/>
<circle cx="632.0" cy="397.8" r="4.15"/>
<circle cx="602.7" cy="402.6" r="4.15"/>
<circle cx="601.8" cy="414.9" r="4.15"/>
<circle cx="614.3" cy="415.4" r="4.15"/>
<circle cx="595.8" cy="423.3" r="4.15"/>
<circle cx="617.5" cy="423.5" r="4.15"/>
<circle cx="611.5" cy="438.0" r="4.15"/>
<circle cx="638.3" cy="436.8" r="4.15"/>
<circle cx="595.3" cy="442.3" r="4.15"/>
<circle cx="609.4" cy="450.4" r="4.15"/>
<circle cx="522.3" cy="364.4" r="4.15"/>
<circle cx="566.7" cy="364.1" r="4.15"/>
<circle cx="534.6" cy="371.3" r="4.15"/>
<circle cx="552.3" cy="378.8" r="4.15"/>
<circle cx="532.8" cy="389.7" r="4.15"/>
<circle cx="528.2" cy="390.5" r="4.15"/>
<circle cx="526.4" cy="396.3" r="4.15"/>
<circle cx="534.9" cy="410.4" r="4.15"/>
<circle cx="563.5" cy="410.4" r="4.15"/>
<circle cx="531.5" cy="416.7" r="4.15"/>
<circle cx="525.2" cy="423.5" r="4.15"/>
<circle cx="520.5" cy="425.1" r="4.15"/>
<circle cx="500.2" cy="428.9" r="4.15"/>
<circle cx="517.4" cy="431.1" r="4.15"/>
<circle cx="530.0" cy="429.3" r="4.15"/>
<circle cx="536.4" cy="430.7" r="4.15"/>
<circle cx="540.3" cy="435.6" r="4.15"/>
<circle cx="534.6" cy="438.0" r="4.15"/>
<circle cx="556.8" cy="432.5" r="4.15"/>
<circle cx="573.4" cy="429.7" r="4.15"/>
<circle cx="581.5" cy="436.1" r="4.15"/>
<circle cx="503.5" cy="441.0" r="4.15"/>
<circle cx="508.0" cy="447.3" r="4.15"/>
<circle cx="568.9" cy="443.3" r="4.15"/>
<circle cx="554.4" cy="448.2" r="4.15"/>
<circle cx="583.3" cy="446.9" r="4.15"/>
<circle cx="576.1" cy="454.0" r="4.15"/>
<circle cx="585.1" cy="458.5" r="4.15"/>
<circle cx="587.8" cy="462.1" r="4.15"/>
<circle cx="557.1" cy="455.8" r="4.15"/>
<circle cx="561.6" cy="454.0" r="4.15"/>
<circle cx="563.5" cy="458.5" r="4.15"/>
<circle cx="511.1" cy="455.8" r="4.15"/>
<circle cx="507.5" cy="458.5" r="4.15"/>
<circle cx="514.7" cy="454.9" r="4.15"/>
<circle cx="529.1" cy="446.8" r="4.15"/>
<circle cx="538.2" cy="449.4" r="4.15"/>
<circle cx="540.0" cy="452.2" r="4.15"/>
<circle cx="547.2" cy="459.4" r="4.15"/>
<circle cx="490.3" cy="474.7" r="4.15"/>
<circle cx="494.8" cy="473.8" r="4.15"/>
<circle cx="568.9" cy="460.3" r="4.15"/>
<circle cx="572.5" cy="462.1" r="4.15"/>
<circle cx="574.3" cy="464.8" r="4.15"/>
<circle cx="565.3" cy="463.9" r="4.15"/>
<circle cx="561.6" cy="476.5" r="4.15"/>
<circle cx="562.0" cy="476.9" r="4.15"/>
<circle cx="561.3" cy="476.2" r="4.15"/>
<circle cx="562.2" cy="476.2" r="4.15"/>
<circle cx="581.5" cy="471.1" r="4.15"/>
<circle cx="576.1" cy="478.3" r="4.15"/>
<circle cx="572.5" cy="483.7" r="4.15"/>
<circle cx="550.8" cy="469.3" r="4.15"/>
<circle cx="556.2" cy="471.1" r="4.15"/>
<circle cx="547.2" cy="478.3" r="4.15"/>
<circle cx="550.8" cy="481.9" r="4.15"/>
<circle cx="545.4" cy="489.1" r="4.15"/>
<circle cx="552.6" cy="492.7" r="4.15"/>
<circle cx="558.0" cy="495.4" r="4.15"/>
<circle cx="563.5" cy="495.4" r="4.15"/>
<circle cx="572.5" cy="492.7" r="4.15"/>
<circle cx="535.5" cy="502.6" r="4.15"/>
<circle cx="533.7" cy="499.9" r="4.15"/>
<circle cx="509.3" cy="505.3" r="4.15"/>
<circle cx="505.7" cy="504.4" r="4.15"/>
<circle cx="512.9" cy="504.4" r="4.15"/>
<circle cx="493.0" cy="489.1" r="4.15"/>
<circle cx="492.1" cy="494.5" r="4.15"/>
<circle cx="495.7" cy="498.1" r="4.15"/>
<circle cx="498.4" cy="501.7" r="4.15"/>
<circle cx="577.0" cy="455.1" r="4.15"/>
<circle cx="584.0" cy="457.6" r="4.15"/>
<circle cx="587.5" cy="462.2" r="4.15"/>
<circle cx="603.7" cy="462.2" r="4.15"/>
<circle cx="609.8" cy="466.0" r="4.15"/>
<circle cx="615.6" cy="468.0" r="4.15"/>
<circle cx="617.9" cy="470.1" r="4.15"/>
<circle cx="628.5" cy="466.3" r="4.15"/>
<circle cx="628.5" cy="473.0" r="4.15"/>
<circle cx="627.2" cy="485.0" r="4.15"/>
<circle cx="578.9" cy="472.4" r="4.15"/>
<circle cx="584.4" cy="474.3" r="4.15"/>
<circle cx="576.3" cy="480.1" r="4.15"/>
<circle cx="579.5" cy="479.5" r="4.15"/>
<circle cx="574.4" cy="482.7" r="4.15"/>
<circle cx="588.5" cy="485.3" r="4.15"/>
<circle cx="589.8" cy="487.2" r="4.15"/>
<circle cx="572.4" cy="493.0" r="4.15"/>
<circle cx="573.7" cy="463.4" r="4.15"/>
<circle cx="575.7" cy="466.0" r="4.15"/>
<circle cx="519.9" cy="470.5" r="4.15"/>
<circle cx="531.7" cy="452.6" r="4.15"/>
<circle cx="531.6" cy="483.4" r="4.15"/>
<circle cx="503.3" cy="494.2" r="4.15"/>
<circle cx="523.7" cy="462.6" r="4.15"/>
<circle cx="508.2" cy="491.0" r="4.15"/>
<circle cx="524.6" cy="483.3" r="4.15"/>
<circle cx="527.2" cy="463.7" r="4.15"/>
<circle cx="536.4" cy="484.9" r="4.15"/>
<circle cx="532.4" cy="489.2" r="4.15"/>
<circle cx="522.6" cy="465.4" r="4.15"/>
<circle cx="512.4" cy="491.0" r="4.15"/>
<circle cx="537.6" cy="483.3" r="4.15"/>
<circle cx="521.8" cy="473.1" r="4.15"/>
<circle cx="532.2" cy="455.6" r="4.15"/>
<circle cx="535.3" cy="468.8" r="4.15"/>
<circle cx="517.3" cy="475.0" r="4.15"/>
<circle cx="518.6" cy="493.2" r="4.15"/>
<circle cx="518.9" cy="490.6" r="4.15"/>
<circle cx="510.2" cy="477.5" r="4.15"/>
<circle cx="525.4" cy="463.6" r="4.15"/>
<circle cx="529.3" cy="462.9" r="4.15"/>
<circle cx="512.7" cy="475.1" r="4.15"/>
<circle cx="513.1" cy="479.7" r="4.15"/>
<circle cx="507.7" cy="484.8" r="4.15"/>
<circle cx="498.4" cy="497.4" r="4.15"/>
<circle cx="535.1" cy="469.6" r="4.15"/>
<circle cx="535.0" cy="461.3" r="4.15"/>
<circle cx="526.0" cy="464.9" r="4.15"/>
<circle cx="532.0" cy="484.4" r="4.15"/>
<circle cx="523.7" cy="496.1" r="4.15"/>
<circle cx="519.0" cy="489.5" r="4.15"/>
<circle cx="520.7" cy="476.4" r="4.15"/>
<circle cx="534.9" cy="454.9" r="4.15"/>
<circle cx="526.4" cy="472.2" r="4.15"/>
<circle cx="500.2" cy="494.8" r="4.15"/>
<circle cx="534.7" cy="454.9" r="4.15"/>
<circle cx="530.8" cy="494.5" r="4.15"/>
<circle cx="536.3" cy="462.3" r="4.15"/>
<circle cx="527.0" cy="477.0" r="4.15"/>
<circle cx="518.6" cy="481.4" r="4.15"/>
<circle cx="531.3" cy="493.6" r="4.15"/>
<circle cx="537.7" cy="473.9" r="4.15"/>
<circle cx="533.1" cy="491.7" r="4.15"/>
<circle cx="520.2" cy="482.1" r="4.15"/>
<circle cx="530.3" cy="491.8" r="4.15"/>
<circle cx="520.9" cy="485.0" r="4.15"/>
<circle cx="523.8" cy="481.6" r="4.15"/>
<circle cx="510.9" cy="489.2" r="4.15"/>
<circle cx="525.1" cy="478.7" r="4.15"/>
<circle cx="522.8" cy="493.8" r="4.15"/>
<circle cx="518.1" cy="490.9" r="4.15"/>
<circle cx="535.4" cy="455.4" r="4.15"/>
<circle cx="527.2" cy="480.1" r="4.15"/>
<circle cx="528.0" cy="474.2" r="4.15"/>
<circle cx="521.9" cy="478.8" r="4.15"/>
<circle cx="531.3" cy="466.2" r="4.15"/>
<circle cx="513.5" cy="484.6" r="4.15"/>
<circle cx="532.4" cy="459.4" r="4.15"/>
<circle cx="520.8" cy="473.9" r="4.15"/>
<circle cx="529.2" cy="493.3" r="4.15"/>
<circle cx="522.1" cy="461.4" r="4.15"/>
<circle cx="520.3" cy="489.6" r="4.15"/>
<circle cx="516.3" cy="472.2" r="4.15"/>
<circle cx="498.7" cy="491.8" r="4.15"/>
<circle cx="503.4" cy="495.8" r="4.15"/>
<circle cx="532.8" cy="476.0" r="4.15"/>
<circle cx="507.8" cy="483.1" r="4.15"/>
<circle cx="536.1" cy="456.9" r="4.15"/>
<circle cx="533.5" cy="467.2" r="4.15"/>
<circle cx="528.4" cy="470.6" r="4.15"/>
<circle cx="522.2" cy="479.9" r="4.15"/>
<circle cx="529.8" cy="479.1" r="4.15"/>
<circle cx="512.1" cy="484.0" r="4.15"/>
<circle cx="513.9" cy="488.5" r="4.15"/>
<circle cx="537.9" cy="475.2" r="4.15"/>
<circle cx="502.6" cy="488.7" r="4.15"/>
<circle cx="533.2" cy="452.6" r="4.15"/>
<circle cx="506.0" cy="486.6" r="4.15"/>
<circle cx="525.4" cy="491.3" r="4.15"/>
<circle cx="500.0" cy="494.8" r="4.15"/>
<circle cx="523.1" cy="493.6" r="4.15"/>
<circle cx="524.7" cy="495.5" r="4.15"/>
<circle cx="511.7" cy="495.7" r="4.15"/>
<circle cx="531.7" cy="488.3" r="4.15"/>
<circle cx="517.1" cy="483.7" r="4.15"/>
<circle cx="506.8" cy="497.8" r="4.15"/>
<circle cx="532.8" cy="474.9" r="4.15"/>
<circle cx="535.6" cy="463.9" r="4.15"/>
<circle cx="501.2" cy="496.0" r="4.15"/>
<circle cx="522.8" cy="491.6" r="4.15"/>
<circle cx="525.7" cy="457.5" r="4.15"/>
<circle cx="537.3" cy="462.1" r="4.15"/>
<circle cx="509.9" cy="496.9" r="4.15"/>
<circle cx="525.9" cy="487.1" r="4.15"/>
<circle cx="531.3" cy="458.6" r="4.15"/>
<circle cx="514.0" cy="479.2" r="4.15"/>
<circle cx="530.4" cy="459.0" r="4.15"/>
<circle cx="521.3" cy="473.7" r="4.15"/>
<circle cx="521.8" cy="489.5" r="4.15"/>
<circle cx="516.7" cy="494.0" r="4.15"/>
<circle cx="523.5" cy="467.6" r="4.15"/>
<circle cx="522.3" cy="460.6" r="4.15"/>
<circle cx="526.7" cy="456.5" r="4.15"/>
<circle cx="509.6" cy="497.0" r="4.15"/>
<circle cx="520.5" cy="475.1" r="4.15"/>
<circle cx="515.8" cy="492.9" r="4.15"/>
<circle cx="534.8" cy="476.3" r="4.15"/>
<circle cx="510.0" cy="485.4" r="4.15"/>
<circle cx="524.5" cy="473.4" r="4.15"/>
<circle cx="535.0" cy="484.1" r="4.15"/>
<circle cx="522.5" cy="482.6" r="4.15"/>
<circle cx="526.8" cy="472.5" r="4.15"/>
<circle cx="519.6" cy="480.1" r="4.15"/>
<circle cx="528.3" cy="455.6" r="4.15"/>
<circle cx="512.1" cy="489.3" r="4.15"/>
<circle cx="517.2" cy="486.1" r="4.15"/>
<circle cx="512.7" cy="491.4" r="4.15"/>
<circle cx="526.0" cy="462.4" r="4.15"/>
<circle cx="521.7" cy="478.6" r="4.15"/>
<circle cx="533.7" cy="474.3" r="4.15"/>
<circle cx="530.4" cy="468.5" r="4.15"/>
<circle cx="515.7" cy="491.6" r="4.15"/>
<circle cx="515.5" cy="473.7" r="4.15"/>
<circle cx="504.6" cy="483.8" r="4.15"/>
<circle cx="526.0" cy="474.2" r="4.15"/>
<circle cx="534.0" cy="454.2" r="4.15"/>
<circle cx="515.1" cy="476.0" r="4.15"/>
<circle cx="504.6" cy="497.4" r="4.15"/>
<circle cx="510.2" cy="495.8" r="4.15"/>
<circle cx="502.0" cy="490.1" r="4.15"/>
<circle cx="502.8" cy="489.6" r="4.15"/>
<circle cx="537.7" cy="458.8" r="4.15"/>
<circle cx="533.3" cy="473.0" r="4.15"/>
<circle cx="517.9" cy="489.3" r="4.15"/>
<circle cx="517.2" cy="477.0" r="4.15"/>
<circle cx="517.1" cy="490.8" r="4.15"/>
<circle cx="519.3" cy="483.3" r="4.15"/>
<circle cx="519.9" cy="489.1" r="4.15"/>
<circle cx="523.6" cy="458.7" r="4.15"/>
<circle cx="539.3" cy="484.9" r="4.15"/>
<circle cx="514.8" cy="477.0" r="4.15"/>
<circle cx="516.1" cy="493.8" r="4.15"/>
<circle cx="521.0" cy="467.8" r="4.15"/>
<circle cx="537.3" cy="487.1" r="4.15"/>
<circle cx="533.0" cy="486.1" r="4.15"/>
<circle cx="522.0" cy="483.4" r="4.15"/>
<circle cx="532.4" cy="466.6" r="4.15"/>
<circle cx="524.9" cy="461.1" r="4.15"/>
<circle cx="534.7" cy="488.0" r="4.15"/>
<circle cx="517.0" cy="481.6" r="4.15"/>
<circle cx="534.0" cy="475.8" r="4.15"/>
<circle cx="516.7" cy="467.5" r="4.15"/>
<circle cx="527.4" cy="489.0" r="4.15"/>
<circle cx="508.1" cy="478.2" r="4.15"/>
<circle cx="523.8" cy="457.2" r="4.15"/>
<circle cx="520.1" cy="462.6" r="4.15"/>
<circle cx="516.0" cy="491.5" r="4.15"/>
<circle cx="524.8" cy="469.0" r="4.15"/>
<circle cx="526.8" cy="478.1" r="4.15"/>
<circle cx="514.2" cy="485.5" r="4.15"/>
<circle cx="523.3" cy="479.4" r="4.15"/>
<circle cx="509.1" cy="494.2" r="4.15"/>
<circle cx="512.9" cy="498.0" r="4.15"/>
<circle cx="510.2" cy="491.0" r="4.15"/>
<circle cx="525.6" cy="458.3" r="4.15"/>
<circle cx="536.9" cy="483.5" r="4.15"/>
<circle cx="526.5" cy="463.1" r="4.15"/>
<circle cx="531.0" cy="464.4" r="4.15"/>
<circle cx="538.9" cy="454.4" r="4.15"/>
<circle cx="530.0" cy="464.0" r="4.15"/>
<circle cx="498.0" cy="492.3" r="4.15"/>
<circle cx="515.6" cy="470.8" r="4.15"/>
<circle cx="519.9" cy="464.3" r="4.15"/>
<circle cx="521.6" cy="491.5" r="4.15"/>
<circle cx="535.2" cy="463.4" r="4.15"/>
<circle cx="518.7" cy="481.0" r="4.15"/>
<circle cx="535.4" cy="455.3" r="4.15"/>
<circle cx="524.9" cy="494.2" r="4.15"/>
<circle cx="509.4" cy="487.2" r="4.15"/>
<circle cx="527.1" cy="492.8" r="4.15"/>
<circle cx="515.2" cy="491.0" r="4.15"/>
<circle cx="519.0" cy="495.4" r="4.15"/>
<circle cx="528.4" cy="485.5" r="4.15"/>
<circle cx="531.8" cy="487.4" r="4.15"/>
<circle cx="533.6" cy="485.5" r="4.15"/>
<circle cx="506.8" cy="491.0" r="4.15"/>
<circle cx="525.3" cy="487.9" r="4.15"/>
<circle cx="525.8" cy="457.0" r="4.15"/>
<circle cx="503.3" cy="484.6" r="4.15"/>
<circle cx="526.0" cy="490.0" r="4.15"/>
<circle cx="528.0" cy="481.8" r="4.15"/>
<circle cx="536.9" cy="454.8" r="4.15"/>
<circle cx="522.7" cy="461.3" r="4.15"/>
<circle cx="514.7" cy="485.3" r="4.15"/>
<circle cx="537.8" cy="471.3" r="4.15"/>
<circle cx="509.3" cy="490.5" r="4.15"/>
<circle cx="525.0" cy="478.1" r="4.15"/>
<circle cx="521.8" cy="460.6" r="4.15"/>
<circle cx="528.8" cy="454.9" r="4.15"/>
<circle cx="524.1" cy="493.7" r="4.15"/>
<circle cx="526.0" cy="472.3" r="4.15"/>
<circle cx="504.7" cy="496.6" r="4.15"/>
<circle cx="524.7" cy="474.2" r="4.15"/>
<circle cx="512.5" cy="474.0" r="4.15"/>
<circle cx="531.9" cy="458.3" r="4.15"/>
<circle cx="528.5" cy="476.1" r="4.15"/>
<circle cx="536.7" cy="474.9" r="4.15"/>
<circle cx="506.5" cy="495.5" r="4.15"/>
<circle cx="535.2" cy="463.6" r="4.15"/>
<circle cx="513.7" cy="470.8" r="4.15"/>
<circle cx="520.5" cy="464.8" r="4.15"/>
<circle cx="531.3" cy="491.2" r="4.15"/>
<circle cx="513.6" cy="494.8" r="4.15"/>
<circle cx="525.6" cy="481.2" r="4.15"/>
<circle cx="524.6" cy="487.3" r="4.15"/>
<circle cx="506.9" cy="496.1" r="4.15"/>
<circle cx="532.7" cy="478.2" r="4.15"/>
<circle cx="530.8" cy="459.9" r="4.15"/>
<circle cx="512.4" cy="489.8" r="4.15"/>
<circle cx="527.4" cy="455.5" r="4.15"/>
<circle cx="518.7" cy="477.6" r="4.15"/>
<circle cx="514.0" cy="485.2" r="4.15"/>
<circle cx="514.8" cy="488.2" r="4.15"/>
<circle cx="517.2" cy="476.5" r="4.15"/>
<circle cx="517.7" cy="492.0" r="4.15"/>
<circle cx="514.3" cy="492.7" r="4.15"/>
<circle cx="525.9" cy="458.8" r="4.15"/>
<circle cx="508.6" cy="482.4" r="4.15"/>
<circle cx="523.6" cy="482.9" r="4.15"/>
<circle cx="536.3" cy="452.2" r="4.15"/>
<circle cx="500.6" cy="492.0" r="4.15"/>
<circle cx="530.9" cy="484.8" r="4.15"/>
<circle cx="536.8" cy="455.7" r="4.15"/>
<circle cx="507.6" cy="492.1" r="4.15"/>
<circle cx="537.0" cy="483.1" r="4.15"/>
<circle cx="524.9" cy="486.4" r="4.15"/>
<circle cx="539.1" cy="476.8" r="4.15"/>
<circle cx="525.3" cy="485.4" r="4.15"/>
<circle cx="520.1" cy="488.3" r="4.15"/>
<circle cx="516.5" cy="488.2" r="4.15"/>
<circle cx="536.0" cy="464.5" r="4.15"/>
<circle cx="520.5" cy="469.1" r="4.15"/>
<circle cx="519.5" cy="469.0" r="4.15"/>
<circle cx="507.1" cy="488.8" r="4.15"/>
<circle cx="533.8" cy="459.4" r="4.15"/>
<circle cx="515.7" cy="500.3" r="4.15"/>
<circle cx="533.5" cy="494.7" r="4.15"/>
<circle cx="506.1" cy="489.1" r="4.15"/>
<circle cx="518.3" cy="497.3" r="4.15"/>
<circle cx="506.5" cy="503.5" r="4.15"/>
<circle cx="536.3" cy="481.0" r="4.15"/>
<circle cx="502.8" cy="489.7" r="4.15"/>
<circle cx="520.5" cy="472.3" r="4.15"/>
<circle cx="527.5" cy="456.3" r="4.15"/>
<circle cx="534.6" cy="483.6" r="4.15"/>
<circle cx="536.4" cy="466.5" r="4.15"/>
<circle cx="532.3" cy="496.7" r="4.15"/>
<circle cx="521.6" cy="484.9" r="4.15"/>
<circle cx="510.4" cy="480.6" r="4.15"/>
<circle cx="502.2" cy="483.6" r="4.15"/>
<circle cx="537.6" cy="467.4" r="4.15"/>
<circle cx="519.6" cy="464.6" r="4.15"/>
<circle cx="496.0" cy="500.7" r="4.15"/>
<circle cx="502.8" cy="485.2" r="4.15"/>
<circle cx="541.6" cy="465.7" r="4.15"/>
<circle cx="513.9" cy="474.5" r="4.15"/>
<circle cx="498.3" cy="496.0" r="4.15"/>
<circle cx="509.3" cy="487.8" r="4.15"/>
<circle cx="536.4" cy="470.9" r="4.15"/>
<circle cx="515.5" cy="458.5" r="4.15"/>
<circle cx="524.4" cy="469.0" r="4.15"/>
<circle cx="530.5" cy="498.0" r="4.15"/>
<circle cx="541.2" cy="464.0" r="4.15"/>
<circle cx="524.0" cy="465.4" r="4.15"/>
<circle cx="525.0" cy="467.2" r="4.15"/>
<circle cx="512.0" cy="462.5" r="4.15"/>
<circle cx="513.3" cy="501.1" r="4.15"/>
<circle cx="524.6" cy="496.8" r="4.15"/>
<circle cx="539.9" cy="488.7" r="4.15"/>
<circle cx="505.0" cy="498.5" r="4.15"/>
<circle cx="507.3" cy="497.4" r="4.15"/>
<circle cx="506.6" cy="487.2" r="4.15"/>
<circle cx="525.9" cy="498.4" r="4.15"/>
<circle cx="509.6" cy="479.4" r="4.15"/>
<circle cx="505.3" cy="493.8" r="4.15"/>
<circle cx="517.3" cy="472.9" r="4.15"/>
<circle cx="518.1" cy="475.0" r="4.15"/>
<circle cx="535.3" cy="455.5" r="4.15"/>
<circle cx="521.4" cy="482.0" r="4.15"/>
<circle cx="510.1" cy="476.2" r="4.15"/>
<circle cx="539.2" cy="456.7" r="4.15"/>
<circle cx="500.1" cy="483.9" r="4.15"/>
<circle cx="534.3" cy="452.5" r="4.15"/>
<circle cx="527.1" cy="473.9" r="4.15"/>
<circle cx="533.5" cy="494.9" r="4.15"/>
<circle cx="528.2" cy="477.9" r="4.15"/>
<circle cx="513.0" cy="496.3" r="4.15"/>
<circle cx="509.3" cy="500.5" r="4.15"/>
<circle cx="506.2" cy="492.3" r="4.15"/>
<circle cx="563.6" cy="482.5" r="4.15"/>
<circle cx="553.3" cy="467.2" r="4.15"/>
<circle cx="568.2" cy="490.1" r="4.15"/>
<circle cx="556.1" cy="465.0" r="4.15"/>
<circle cx="563.1" cy="468.5" r="4.15"/>
<circle cx="550.5" cy="468.1" r="4.15"/>
<circle cx="558.1" cy="480.8" r="4.15"/>
<circle cx="560.1" cy="483.3" r="4.15"/>
<circle cx="556.4" cy="479.6" r="4.15"/>
<circle cx="556.2" cy="479.3" r="4.15"/>
<circle cx="551.2" cy="469.7" r="4.15"/>
<circle cx="550.0" cy="480.8" r="4.15"/>
<circle cx="566.8" cy="476.8" r="4.15"/>
<circle cx="559.4" cy="470.4" r="4.15"/>
<circle cx="463.0" cy="514.0" r="4.15"/>
</g>
<path class="cv" d="M463.0,514.0 L465.2,512.7 L467.3,511.2 L469.5,509.6 L471.6,507.9 L473.8,505.9 L475.9,503.8 L478.1,502.1 L480.2,500.7 L482.4,499.5 L484.5,498.4 L486.7,497.5 L488.8,496.5 L491.0,495.6 L493.2,494.6 L495.3,493.6 L497.5,492.7 L499.6,491.8 L501.8,490.9 L503.9,490.0 L506.1,489.2 L508.2,488.4 L510.4,487.7 L512.5,487.0 L514.7,486.3 L516.8,485.6 L519.0,484.9 L521.2,484.3 L523.3,483.8 L525.5,483.2 L527.6,482.7 L529.8,482.2 L531.9,481.7 L534.1,481.2 L536.2,480.7 L538.4,480.3 L540.5,479.9 L542.7,479.5 L544.8,479.1 L547.0,478.8 L549.2,478.4 L551.3,478.1 L553.5,477.7 L555.6,477.4 L557.8,477.1 L559.9,476.7 L562.1,476.4 L564.2,476.1 L566.4,475.8 L568.5,475.5 L570.7,475.2 L572.8,474.8 L575.0,474.5 L577.2,474.2 L579.3,473.8 L581.5,473.5 L583.6,473.1 L585.8,472.8 L587.9,472.4 L590.1,472.0 L592.2,471.6 L594.4,471.2 L596.5,470.7 L598.7,470.3 L600.8,469.8 L603.0,469.3 L605.1,468.8 L607.3,468.3 L609.5,467.7 L611.6,467.1 L613.8,466.5 L615.9,465.9 L618.1,465.2 L620.2,464.5 L622.4,463.8 L624.5,463.0 L626.7,462.2 L628.8,461.4 L631.0,460.5 L633.1,459.6 L635.3,458.6 L637.5,457.6 L639.6,456.6 L641.8,455.5 L643.9,454.4 L646.1,453.2 L648.2,452.0 L650.4,450.8 L652.5,449.4 L654.7,448.1 L656.8,446.7 L659.0,445.2 L661.1,443.7 L663.3,442.1 L665.5,440.5 L667.6,438.8 L669.8,437.0 L671.9,435.2 L674.1,433.3 L676.2,431.4 L678.4,429.4 L680.5,427.3 L682.7,425.2 L684.8,423.0 L687.0,420.7 L689.1,418.4 L691.3,416.0 L693.5,413.5 L695.6,410.9 L697.8,408.3 L699.9,405.6 L702.1,402.8 L704.2,399.9 L706.4,396.9 L708.5,393.9 L710.7,390.8 L712.8,387.6 L715.0,384.3 L717.1,380.9 L719.3,377.4"/>
<path class="ax" d="M463.0,308.9H719.3V514.0H463.0ZM548.4,514.0v-4.9M548.4,308.9v4.9M633.9,514.0v-4.9M633.9,308.9v4.9M463.0,411.4h4.9M719.3,411.4h-4.9"/>
<text class="tk" x="462.0" y="541.6" text-anchor="middle">0</text>
<text class="tk" x="547.4" y="541.6" text-anchor="middle">1000</text>
<text class="tk" x="632.9" y="541.6" text-anchor="middle">2000</text>
<text class="tk" x="718.3" y="541.6" text-anchor="middle">3000</text>
<text class="tk" x="452.5" y="518.3" text-anchor="end">0</text>
<text class="tk" x="452.5" y="415.8" text-anchor="end">20</text>
<text class="tk" x="452.5" y="313.2" text-anchor="end">40</text>
<text x="482.6" y="344.6" font-size="26">d</text>
</g>
<text x="218.1" y="614.7" font-size="28.7">Mean annual precipitation <tspan x="554.6">(</tspan><tspan x="566.8" font-size="29">mm)</tspan></text>
<text transform="translate(26.1,396) rotate(-90)" font-size="25.8">Leaf biomass (Mg ha<tspan font-size="15.5" dy="-13.2" dx="0.8">-1</tspan><tspan dy="13.2" dx="0.6">)</tspan></text>
</svg></body></html>
